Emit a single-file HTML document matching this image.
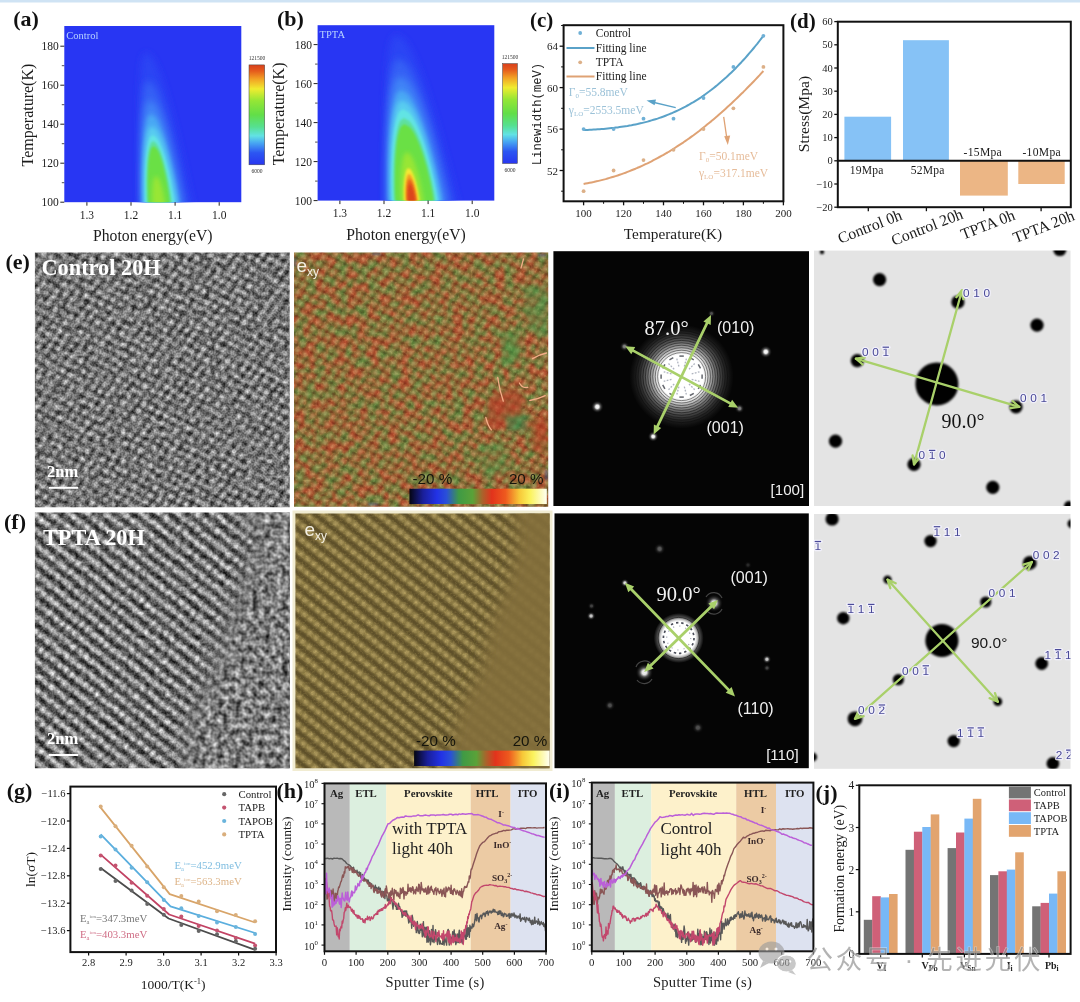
<!DOCTYPE html>
<html lang="zh"><head><meta charset="utf-8"><title>Figure</title>
<style>
html,body{margin:0;padding:0;background:#fff;}
body{width:1080px;height:1002px;overflow:hidden;}
svg{display:block;}
.s{font-family:"Liberation Serif",serif;}
.n{font-family:"Liberation Sans",sans-serif;}
.m{font-family:"Liberation Mono",monospace;}
.c{font-family:"Liberation Sans","Noto Sans CJK SC",sans-serif;}
</style></head><body>
<svg width="1080" height="1002" viewBox="0 0 1080 1002">
<defs>
<filter id="bl1" x="-20%" y="-20%" width="140%" height="140%"><feGaussianBlur stdDeviation="1.1"/></filter>
<filter id="bl2" x="-20%" y="-20%" width="140%" height="140%"><feGaussianBlur stdDeviation="2"/></filter>
<filter id="bl3" x="-30%" y="-30%" width="160%" height="160%"><feGaussianBlur stdDeviation="3.5"/></filter>
<linearGradient id="cbar" x1="0" y1="1" x2="0" y2="0">
<stop offset="0" stop-color="#2836f0"/><stop offset="0.12" stop-color="#2c56f2"/><stop offset="0.22" stop-color="#48a8f2"/>
<stop offset="0.29" stop-color="#62e2e4"/><stop offset="0.38" stop-color="#56e090"/><stop offset="0.5" stop-color="#62de48"/>
<stop offset="0.64" stop-color="#94e636"/><stop offset="0.76" stop-color="#f0ec30"/><stop offset="0.86" stop-color="#f2a024"/>
<stop offset="0.94" stop-color="#e55a1c"/><stop offset="1" stop-color="#d8401c"/></linearGradient>

<!-- TEM lattice patterns -->
<pattern id="latE" width="9.2" height="9.2" patternUnits="userSpaceOnUse" patternTransform="rotate(28) skewX(-8) scale(0.93) translate(2 3)">
<rect width="9.2" height="9.2" fill="#4e4e4e"/><circle cx="4.6" cy="4.6" r="3.4" fill="#8c8c8c"/><circle cx="4.6" cy="4.6" r="2.3" fill="#d6d6d6"/><circle cx="0" cy="0" r="2" fill="#262626"/><circle cx="9.2" cy="0" r="2" fill="#262626"/><circle cx="0" cy="9.2" r="2" fill="#262626"/><circle cx="9.2" cy="9.2" r="2" fill="#262626"/></pattern>
<pattern id="latF" width="8" height="11.3" patternUnits="userSpaceOnUse" patternTransform="rotate(38.6) translate(1 2)">
<rect width="8" height="11.3" fill="#2a2a2a"/><rect y="2.5" width="8" height="6.3" fill="#747474"/><rect y="3.7" width="8" height="3.9" fill="#989898"/><ellipse cx="4" cy="5.65" rx="2.6" ry="2.9" fill="#e6e6e6"/></pattern>
<pattern id="latEs" width="9.2" height="9.2" patternUnits="userSpaceOnUse" patternTransform="rotate(28) skewX(-8) scale(0.93) translate(2 3)">
<circle cx="4.6" cy="4.6" r="2.5" fill="#f0dc9c" fill-opacity="0.42"/><circle cx="0" cy="0" r="2.4" fill="#141000" fill-opacity="0.3"/><circle cx="9.2" cy="0" r="2.4" fill="#141000" fill-opacity="0.3"/><circle cx="0" cy="9.2" r="2.4" fill="#141000" fill-opacity="0.3"/><circle cx="9.2" cy="9.2" r="2.4" fill="#141000" fill-opacity="0.3"/></pattern>
<pattern id="latFs" width="8" height="11.3" patternUnits="userSpaceOnUse" patternTransform="rotate(38.6) translate(1 2)">
<rect width="8" height="11.3" fill="#5c4e28"/><rect y="2.5" width="8" height="6.3" fill="#84733e"/><ellipse cx="4" cy="5.65" rx="2.5" ry="2.6" fill="#ab975c"/></pattern>
<filter id="tem" x="0" y="0" width="100%" height="100%" color-interpolation-filters="sRGB">
<feGaussianBlur in="SourceGraphic" stdDeviation="1.0" result="b"/>
<feTurbulence type="fractalNoise" baseFrequency="0.19" numOctaves="1" seed="7" result="n"/>
<feColorMatrix in="n" type="matrix" values="0 0 0 2.8 -0.9  0 0 0 2.8 -0.9  0 0 0 2.8 -0.9  0 0 0 0 1" result="g"/>
<feTurbulence type="fractalNoise" baseFrequency="0.55" numOctaves="1" seed="31" result="n2"/>
<feColorMatrix in="n2" type="matrix" values="0 0 0 2.8 -0.9  0 0 0 2.8 -0.9  0 0 0 2.8 -0.9  0 0 0 0 1" result="g2"/>
<feComposite in="g" in2="g2" operator="arithmetic" k1="0" k2="0.6" k3="0.4" k4="0" result="gg"/>
<feComposite in="b" in2="gg" operator="arithmetic" k1="0" k2="0.66" k3="0.46" k4="-0.06"/>
</filter>
<filter id="temF" x="0" y="0" width="100%" height="100%" color-interpolation-filters="sRGB">
<feGaussianBlur in="SourceGraphic" stdDeviation="1.0" result="b"/>
<feTurbulence type="fractalNoise" baseFrequency="0.2" numOctaves="1" seed="11" result="n"/>
<feColorMatrix in="n" type="matrix" values="0 0 0 2.8 -0.9  0 0 0 2.8 -0.9  0 0 0 2.8 -0.9  0 0 0 0 1" result="g"/>
<feTurbulence type="fractalNoise" baseFrequency="0.55" numOctaves="1" seed="41" result="n2"/>
<feColorMatrix in="n2" type="matrix" values="0 0 0 2.8 -0.9  0 0 0 2.8 -0.9  0 0 0 2.8 -0.9  0 0 0 0 1" result="g2"/>
<feComposite in="g" in2="g2" operator="arithmetic" k1="0" k2="0.6" k3="0.4" k4="0" result="gg"/>
<feComposite in="b" in2="gg" operator="arithmetic" k1="0" k2="0.74" k3="0.4" k4="-0.07"/>
</filter>
<filter id="amorph" x="0" y="0" width="100%" height="100%" color-interpolation-filters="sRGB">
<feTurbulence type="fractalNoise" baseFrequency="0.17" numOctaves="2" seed="23" result="n"/>
<feColorMatrix in="n" type="matrix" values="0 0 0 1.1 -0.06  0 0 0 1.1 -0.06  0 0 0 1.1 -0.06  0 0 0 0 1" result="g"/>
<feGaussianBlur in="SourceGraphic" stdDeviation="9" result="m"/>
<feComposite in="g" in2="m" operator="in"/>
</filter>
<filter id="strainE" x="0" y="0" width="100%" height="100%" color-interpolation-filters="sRGB">
<feTurbulence type="fractalNoise" baseFrequency="0.095" numOctaves="2" seed="4" result="n"/>
<feColorMatrix in="n" type="matrix" values="0 0 0 1 0  0 0 0 1 0  0 0 0 1 0  0 0 0 0 1" result="g"/>
<feComponentTransfer in="g" result="col">
<feFuncR type="table" tableValues="0.34 0.34 0.36 0.40 0.45 0.52 0.59 0.64 0.67 0.68 0.68"/>
<feFuncG type="table" tableValues="0.49 0.49 0.48 0.46 0.43 0.38 0.33 0.29 0.27 0.26 0.26"/>
<feFuncB type="table" tableValues="0.21 0.21 0.21 0.21 0.20 0.185 0.17 0.16 0.155 0.15 0.15"/>
</feComponentTransfer>
<feTurbulence type="fractalNoise" baseFrequency="0.45" numOctaves="1" seed="9" result="n2"/>
<feColorMatrix in="n2" type="matrix" values="0 0 0 1.4 -0.7  0 0 0 1.4 -0.7  0 0 0 1.0 -0.5  0 0 0 0 1" result="g2"/>
<feComposite in="col" in2="g2" operator="arithmetic" k1="0" k2="1" k3="0.3" k4="0"/>
</filter>
<filter id="strainF" x="0" y="0" width="100%" height="100%" color-interpolation-filters="sRGB">
<feGaussianBlur in="SourceGraphic" stdDeviation="0.8" result="b"/>
<feTurbulence type="fractalNoise" baseFrequency="0.45" numOctaves="2" seed="15" result="n"/>
<feColorMatrix in="n" type="matrix" values="0 0 0 1.2 -0.6  0 0 0 1.1 -0.55  0 0 0 0.7 -0.35  0 0 0 0 1" result="g"/>
<feComposite in="b" in2="g" operator="arithmetic" k1="0" k2="1" k3="0.22" k4="0"/>
</filter>
<filter id="soft1" x="-50%" y="-50%" width="200%" height="200%"><feGaussianBlur stdDeviation="1.2"/></filter>
<filter id="soft2" x="-50%" y="-50%" width="200%" height="200%"><feGaussianBlur stdDeviation="2.2"/></filter>
<filter id="soft05" x="-50%" y="-50%" width="200%" height="200%"><feGaussianBlur stdDeviation="0.6"/></filter>
<filter id="soft6" x="-50%" y="-50%" width="200%" height="200%"><feGaussianBlur stdDeviation="7"/></filter>
<linearGradient id="scb" x1="0" y1="0" x2="1" y2="0">
<stop offset="0" stop-color="#050510"/><stop offset="0.10" stop-color="#1a1f9a"/><stop offset="0.20" stop-color="#2232e6"/><stop offset="0.27" stop-color="#2a50d8"/>
<stop offset="0.36" stop-color="#3f9a45"/><stop offset="0.46" stop-color="#5aa238"/><stop offset="0.53" stop-color="#a8642c"/><stop offset="0.60" stop-color="#e2331c"/><stop offset="0.70" stop-color="#ee5a1e"/>
<stop offset="0.80" stop-color="#f7c838"/><stop offset="0.88" stop-color="#fbf35e"/><stop offset="1" stop-color="#fffff2"/></linearGradient>
<radialGradient id="glowE"><stop offset="0" stop-color="#fff"/><stop offset="0.42" stop-color="#fff"/><stop offset="0.48" stop-color="#e2e2e2"/><stop offset="0.58" stop-color="#9a9a9a"/><stop offset="0.70" stop-color="#555"/><stop offset="0.82" stop-color="#282828"/><stop offset="0.93" stop-color="#101010"/><stop offset="1" stop-color="#050505"/></radialGradient>
<radialGradient id="glowF"><stop offset="0" stop-color="#fff"/><stop offset="0.66" stop-color="#fff"/><stop offset="0.74" stop-color="#c8c8c8"/><stop offset="0.86" stop-color="#444"/><stop offset="1" stop-color="#050505"/></radialGradient>
<radialGradient id="spot"><stop offset="0" stop-color="#fff"/><stop offset="0.25" stop-color="#eee"/><stop offset="0.5" stop-color="#555"/><stop offset="1" stop-color="#000" stop-opacity="0"/></radialGradient>
<clipPath id="cE1"><rect x="34.9" y="252.6" width="254.8" height="254.7"/></clipPath>
<clipPath id="cF1"><rect x="34.9" y="512.6" width="254.8" height="255.6"/></clipPath>
<clipPath id="cE2"><rect x="294" y="252.6" width="254.2" height="254.2"/></clipPath>
<clipPath id="cF2"><rect x="295.4" y="513.4" width="254.2" height="254.8"/></clipPath>
<clipPath id="cE4"><rect x="814" y="250.6" width="256.5" height="255.4"/></clipPath>
<clipPath id="cF4"><rect x="814" y="514" width="256.5" height="254.8"/></clipPath>
<clipPath id="cF3"><rect x="554.5" y="513.4" width="254.3" height="254.8"/></clipPath>

<clipPath id="cH"><rect x="324.5" y="783.4" width="221.5" height="167.9"/></clipPath>
<clipPath id="cI"><rect x="591.8" y="782.6" width="221.6" height="168.7"/></clipPath>
</defs>
<rect x="0" y="0" width="1080" height="1002" fill="#ffffff"/>
<rect x="0" y="0" width="1080" height="2.5" fill="#cfe3f4"/>
<g fill="#1c1c1c" opacity="0.999">
<clipPath id="hm1"><rect x="64.3" y="26" width="177" height="176.2"/></clipPath>
<rect x="64.3" y="26" width="177" height="176.2" fill="#2836f3"/>
<g clip-path="url(#hm1)"><path d="M139.6 206.2 L139.3 200.7 L139.3 195.2 L139.3 189.7 L139.2 184.2 L139.2 178.7 L139.1 173.2 L139.1 167.6 L139.0 162.1 L139.0 156.6 L139.0 151.1 L139.0 145.6 L139.0 140.1 L139.0 134.6 L139.0 129.1 L139.0 123.6 L139.0 118.1 L139.1 112.6 L139.2 107.1 L139.3 101.6 L139.4 96.1 L139.6 90.5 L139.8 85.0 L140.1 79.5 L140.5 74.0 L140.9 68.5 L141.6 63.0 L142.5 57.5 L145.5 52.0 L145.5 52.0 L152.2 57.5 L155.2 63.0 L157.7 68.5 L159.8 74.0 L161.8 79.5 L163.6 85.0 L165.3 90.5 L166.9 96.1 L168.4 101.6 L170.0 107.1 L171.4 112.6 L172.8 118.1 L174.2 123.6 L175.6 129.1 L176.9 134.6 L178.2 140.1 L179.5 145.6 L180.8 151.1 L182.0 156.6 L183.3 162.1 L184.5 167.6 L185.7 173.2 L186.9 178.7 L188.1 184.2 L189.4 189.7 L190.6 195.2 L191.9 200.7 L192.6 206.2Z" fill="#2c44f4" filter="url(#bl3)"/><path d="M141.1 206.2 L140.8 201.7 L140.7 197.2 L140.7 192.7 L140.6 188.2 L140.6 183.7 L140.6 179.2 L140.6 174.6 L140.5 170.1 L140.5 165.6 L140.5 161.1 L140.6 156.6 L140.6 152.1 L140.6 147.6 L140.7 143.1 L140.8 138.6 L140.9 134.1 L141.0 129.6 L141.1 125.1 L141.3 120.6 L141.5 116.1 L141.7 111.5 L142.0 107.0 L142.3 102.5 L142.7 98.0 L143.2 93.5 L143.9 89.0 L144.9 84.5 L147.9 80.0 L147.9 80.0 L153.5 84.5 L156.0 89.0 L158.0 93.5 L159.8 98.0 L161.4 102.5 L162.9 107.0 L164.3 111.5 L165.6 116.1 L166.9 120.6 L168.1 125.1 L169.3 129.6 L170.5 134.1 L171.6 138.6 L172.7 143.1 L173.7 147.6 L174.8 152.1 L175.8 156.6 L176.8 161.1 L177.8 165.6 L178.8 170.1 L179.7 174.6 L180.7 179.2 L181.6 183.7 L182.5 188.2 L183.4 192.7 L184.3 197.2 L185.2 201.7 L185.6 206.2Z" fill="#3460f5" filter="url(#bl3)"/><path d="M142.1 206.2 L141.8 202.4 L141.7 198.6 L141.6 194.8 L141.6 191.0 L141.6 187.2 L141.5 183.4 L141.5 179.6 L141.5 175.9 L141.6 172.1 L141.6 168.3 L141.6 164.5 L141.7 160.7 L141.8 156.9 L141.9 153.1 L142.0 149.3 L142.1 145.5 L142.2 141.7 L142.4 137.9 L142.6 134.1 L142.8 130.3 L143.1 126.5 L143.4 122.8 L143.8 119.0 L144.3 115.2 L144.8 111.4 L145.6 107.6 L146.6 103.8 L149.6 100.0 L149.6 100.0 L154.6 103.8 L156.8 107.6 L158.6 111.4 L160.2 115.2 L161.6 119.0 L162.9 122.8 L164.1 126.5 L165.2 130.3 L166.3 134.1 L167.4 137.9 L168.4 141.7 L169.4 145.5 L170.3 149.3 L171.2 153.1 L172.1 156.9 L173.0 160.7 L173.9 164.5 L174.7 168.3 L175.5 172.1 L176.3 175.9 L177.1 179.6 L177.8 183.4 L178.6 187.2 L179.3 191.0 L180.0 194.8 L180.7 198.6 L181.3 202.4 L181.6 206.2Z" fill="#3f84f6" filter="url(#bl3)"/><path d="M143.1 206.2 L142.9 202.9 L142.7 199.6 L142.6 196.3 L142.5 193.0 L142.5 189.7 L142.5 186.4 L142.5 183.1 L142.5 179.9 L142.5 176.6 L142.5 173.3 L142.6 170.0 L142.6 166.7 L142.7 163.4 L142.8 160.1 L143.0 156.8 L143.1 153.5 L143.3 150.2 L143.4 146.9 L143.7 143.6 L143.9 140.3 L144.2 137.1 L144.5 133.8 L144.9 130.5 L145.4 127.2 L146.0 123.9 L146.7 120.6 L147.8 117.3 L150.8 114.0 L150.8 114.0 L155.4 117.3 L157.5 120.6 L159.1 123.9 L160.5 127.2 L161.8 130.5 L163.0 133.8 L164.1 137.1 L165.1 140.3 L166.1 143.6 L167.0 146.9 L167.9 150.2 L168.8 153.5 L169.6 156.8 L170.4 160.1 L171.2 163.4 L172.0 166.7 L172.7 170.0 L173.4 173.3 L174.1 176.6 L174.8 179.9 L175.5 183.1 L176.1 186.4 L176.7 189.7 L177.3 193.0 L177.9 196.3 L178.4 199.6 L178.9 202.9 L179.1 206.2Z" fill="#4aa8f4" filter="url(#bl2)"/><path d="M144.1 206.2 L143.9 203.3 L143.7 200.5 L143.6 197.6 L143.6 194.7 L143.5 191.9 L143.5 189.0 L143.5 186.1 L143.5 183.3 L143.6 180.4 L143.6 177.6 L143.7 174.7 L143.7 171.8 L143.8 169.0 L143.9 166.1 L144.1 163.2 L144.2 160.4 L144.4 157.5 L144.6 154.6 L144.8 151.8 L145.1 148.9 L145.4 146.1 L145.7 143.2 L146.1 140.3 L146.6 137.5 L147.1 134.6 L147.9 131.7 L148.9 128.9 L151.8 126.0 L151.8 126.0 L156.1 128.9 L158.0 131.7 L159.4 134.6 L160.7 137.5 L161.9 140.3 L163.0 143.2 L163.9 146.1 L164.9 148.9 L165.8 151.8 L166.6 154.6 L167.4 157.5 L168.2 160.4 L168.9 163.2 L169.6 166.1 L170.3 169.0 L171.0 171.8 L171.7 174.7 L172.3 177.6 L172.9 180.4 L173.5 183.3 L174.1 186.1 L174.6 189.0 L175.1 191.9 L175.7 194.7 L176.1 197.6 L176.6 200.5 L176.9 203.3 L177.1 206.2Z" fill="#58ccf0" filter="url(#bl2)"/><path d="M145.6 206.2 L145.4 203.7 L145.2 201.1 L145.1 198.6 L145.1 196.0 L145.0 193.5 L145.0 190.9 L145.0 188.4 L145.0 185.9 L145.0 183.3 L145.0 180.8 L145.1 178.2 L145.2 175.7 L145.2 173.1 L145.3 170.6 L145.5 168.1 L145.6 165.5 L145.7 163.0 L145.9 160.4 L146.1 157.9 L146.4 155.3 L146.6 152.8 L147.0 150.3 L147.3 147.7 L147.8 145.2 L148.3 142.6 L149.0 140.1 L149.9 137.5 L152.6 135.0 L152.6 135.0 L156.3 137.5 L158.0 140.1 L159.3 142.6 L160.5 145.2 L161.5 147.7 L162.4 150.3 L163.3 152.8 L164.1 155.3 L164.9 157.9 L165.6 160.4 L166.3 163.0 L167.0 165.5 L167.6 168.1 L168.3 170.6 L168.9 173.1 L169.4 175.7 L170.0 178.2 L170.6 180.8 L171.1 183.3 L171.6 185.9 L172.1 188.4 L172.5 190.9 L173.0 193.5 L173.4 196.0 L173.8 198.6 L174.2 201.1 L174.4 203.7 L174.6 206.2Z" fill="#62e4e4" filter="url(#bl1)"/><path d="M147.1 206.2 L146.9 203.9 L146.8 201.5 L146.6 199.2 L146.5 196.9 L146.5 194.6 L146.4 192.2 L146.4 189.9 L146.4 187.6 L146.4 185.2 L146.4 182.9 L146.4 180.6 L146.4 178.3 L146.5 175.9 L146.6 173.6 L146.6 171.3 L146.8 168.9 L146.9 166.6 L147.0 164.3 L147.2 162.0 L147.4 159.6 L147.7 157.3 L147.9 155.0 L148.3 152.6 L148.7 150.3 L149.1 148.0 L149.8 145.7 L150.7 143.3 L153.1 141.0 L153.1 141.0 L156.4 143.3 L157.9 145.7 L159.0 148.0 L160.0 150.3 L160.9 152.6 L161.7 155.0 L162.5 157.3 L163.2 159.6 L163.9 162.0 L164.5 164.3 L165.1 166.6 L165.7 168.9 L166.3 171.3 L166.8 173.6 L167.3 175.9 L167.8 178.3 L168.3 180.6 L168.7 182.9 L169.2 185.2 L169.6 187.6 L170.0 189.9 L170.4 192.2 L170.8 194.6 L171.1 196.9 L171.4 199.2 L171.7 201.5 L171.9 203.9 L172.1 206.2Z" fill="#5ee0a0" filter="url(#bl1)"/><path d="M148.6 206.2 L148.5 204.0 L148.3 201.9 L148.1 199.8 L148.0 197.6 L147.9 195.4 L147.9 193.3 L147.8 191.1 L147.8 189.0 L147.7 186.8 L147.7 184.7 L147.7 182.5 L147.7 180.4 L147.8 178.2 L147.8 176.1 L147.9 173.9 L148.0 171.8 L148.1 169.7 L148.2 167.5 L148.3 165.3 L148.5 163.2 L148.7 161.1 L148.9 158.9 L149.2 156.8 L149.6 154.6 L150.0 152.4 L150.5 150.3 L151.3 148.2 L153.5 146.0 L153.5 146.0 L156.4 148.2 L157.7 150.3 L158.8 152.4 L159.7 154.6 L160.4 156.8 L161.2 158.9 L161.8 161.1 L162.5 163.2 L163.0 165.3 L163.6 167.5 L164.1 169.7 L164.6 171.8 L165.1 173.9 L165.6 176.1 L166.0 178.2 L166.5 180.4 L166.9 182.5 L167.3 184.7 L167.6 186.8 L168.0 189.0 L168.3 191.1 L168.7 193.3 L169.0 195.4 L169.3 197.6 L169.5 199.8 L169.8 201.9 L170.0 204.0 L170.1 206.2Z" fill="#6ae044" filter="url(#bl1)"/><path d="M152.6 206.2 L152.5 205.1 L152.5 204.0 L152.4 203.0 L152.3 201.9 L152.2 200.8 L152.2 199.7 L152.1 198.6 L152.1 197.6 L152.1 196.5 L152.1 195.4 L152.1 194.3 L152.2 193.3 L152.2 192.2 L152.3 191.1 L152.3 190.0 L152.4 188.9 L152.5 187.9 L152.5 186.8 L152.7 185.7 L152.8 184.6 L152.9 183.6 L153.1 182.5 L153.3 181.4 L153.5 180.3 L153.8 179.2 L154.2 178.2 L154.7 177.1 L156.1 176.0 L156.1 176.0 L157.8 177.1 L158.5 178.2 L159.1 179.2 L159.6 180.3 L160.0 181.4 L160.4 182.5 L160.8 183.6 L161.2 184.6 L161.5 185.7 L161.8 186.8 L162.1 187.9 L162.4 188.9 L162.6 190.0 L162.9 191.1 L163.1 192.2 L163.4 193.3 L163.6 194.3 L163.8 195.4 L164.0 196.5 L164.2 197.6 L164.3 198.6 L164.5 199.7 L164.6 200.8 L164.8 201.9 L164.9 203.0 L165.0 204.0 L165.0 205.1 L165.1 206.2Z" fill="#98e636" filter="url(#bl2)"/></g>
<text class="s" x="66.3" y="38.5" font-size="10.5" fill="#b9d4ff">Control</text>
<text class="s" x="13.2" y="26" font-size="22" font-weight="bold" fill="#111">(a)</text>
<line x1="60.3" y1="46.2" x2="64.3" y2="46.2" stroke="#222" stroke-width="1"/>
<text class="s" x="58.8" y="50.2" font-size="11.5" text-anchor="end">180</text>
<line x1="60.3" y1="85.2" x2="64.3" y2="85.2" stroke="#222" stroke-width="1"/>
<text class="s" x="58.8" y="89.2" font-size="11.5" text-anchor="end">160</text>
<line x1="60.3" y1="124.2" x2="64.3" y2="124.2" stroke="#222" stroke-width="1"/>
<text class="s" x="58.8" y="128.2" font-size="11.5" text-anchor="end">140</text>
<line x1="60.3" y1="163.2" x2="64.3" y2="163.2" stroke="#222" stroke-width="1"/>
<text class="s" x="58.8" y="167.2" font-size="11.5" text-anchor="end">120</text>
<line x1="60.3" y1="202.2" x2="64.3" y2="202.2" stroke="#222" stroke-width="1"/>
<text class="s" x="58.8" y="206.2" font-size="11.5" text-anchor="end">100</text>
<line x1="61.8" y1="65.7" x2="64.3" y2="65.7" stroke="#222" stroke-width="0.8"/>
<line x1="61.8" y1="104.7" x2="64.3" y2="104.7" stroke="#222" stroke-width="0.8"/>
<line x1="61.8" y1="143.7" x2="64.3" y2="143.7" stroke="#222" stroke-width="0.8"/>
<line x1="61.8" y1="182.7" x2="64.3" y2="182.7" stroke="#222" stroke-width="0.8"/>
<line x1="86.9" y1="202.2" x2="86.9" y2="205.7" stroke="#222" stroke-width="1"/>
<text class="s" x="86.9" y="218.7" font-size="11.5" text-anchor="middle">1.3</text>
<line x1="131" y1="202.2" x2="131" y2="205.7" stroke="#222" stroke-width="1"/>
<text class="s" x="131" y="218.7" font-size="11.5" text-anchor="middle">1.2</text>
<line x1="175.1" y1="202.2" x2="175.1" y2="205.7" stroke="#222" stroke-width="1"/>
<text class="s" x="175.1" y="218.7" font-size="11.5" text-anchor="middle">1.1</text>
<line x1="219.2" y1="202.2" x2="219.2" y2="205.7" stroke="#222" stroke-width="1"/>
<text class="s" x="219.2" y="218.7" font-size="11.5" text-anchor="middle">1.0</text>
<text class="s" x="33" y="115.1" font-size="16" text-anchor="middle" transform="rotate(-90 33 115.1)">Temperature(K)</text>
<text class="s" x="152.8" y="241.2" font-size="15.7" text-anchor="middle">Photon energy(eV)</text>
<rect x="249" y="64.9" width="15.7" height="99.9" fill="url(#cbar)" stroke="#444" stroke-width="0.5"/>
<text class="s" x="256.9" y="60.4" font-size="5.5" text-anchor="middle" fill="#333">121500</text>
<text class="s" x="256.9" y="173.3" font-size="5.5" text-anchor="middle" fill="#333">6000</text>
<clipPath id="hm2"><rect x="317.6" y="25.2" width="176.7" height="175.4"/></clipPath>
<rect x="317.6" y="25.2" width="176.7" height="175.4" fill="#2836f3"/>
<g clip-path="url(#hm2)"><path d="M384.9 204.6 L384.6 198.5 L384.6 192.4 L384.7 186.3 L384.7 180.2 L384.7 174.1 L384.7 168.0 L384.7 161.9 L384.8 155.9 L384.8 149.8 L384.8 143.7 L384.9 137.6 L385.0 131.5 L385.1 125.4 L385.2 119.3 L385.3 113.2 L385.4 107.1 L385.6 101.0 L385.8 94.9 L386.0 88.8 L386.3 82.7 L386.7 76.7 L387.1 70.6 L387.6 64.5 L388.2 58.4 L388.9 52.3 L389.9 46.2 L391.3 40.1 L395.7 34.0 L395.7 34.0 L404.6 40.1 L408.7 46.2 L411.9 52.3 L414.7 58.4 L417.3 64.5 L419.7 70.6 L422.0 76.7 L424.1 82.7 L426.2 88.8 L428.1 94.9 L430.0 101.0 L431.9 107.1 L433.7 113.2 L435.5 119.3 L437.2 125.4 L439.0 131.5 L440.6 137.6 L442.3 143.7 L443.9 149.8 L445.6 155.9 L447.2 161.9 L448.8 168.0 L450.4 174.1 L452.0 180.2 L453.6 186.3 L455.2 192.4 L456.9 198.5 L457.9 204.6Z" fill="#2c44f4" filter="url(#bl3)"/><path d="M386.4 204.6 L386.0 199.4 L386.0 194.1 L386.0 188.9 L386.0 183.7 L386.0 178.4 L386.0 173.2 L386.0 167.9 L386.0 162.7 L386.1 157.5 L386.2 152.2 L386.3 147.0 L386.4 141.8 L386.5 136.5 L386.6 131.3 L386.8 126.1 L387.0 120.8 L387.2 115.6 L387.5 110.4 L387.8 105.1 L388.1 99.9 L388.5 94.7 L389.0 89.4 L389.5 84.2 L390.2 78.9 L391.0 73.7 L392.0 68.5 L393.6 63.2 L398.0 58.0 L398.0 58.0 L405.9 63.2 L409.5 68.5 L412.4 73.7 L414.9 78.9 L417.2 84.2 L419.2 89.4 L421.2 94.7 L423.1 99.9 L424.8 105.1 L426.6 110.4 L428.2 115.6 L429.8 120.8 L431.4 126.1 L432.9 131.3 L434.4 136.5 L435.8 141.8 L437.2 147.0 L438.6 152.2 L440.0 157.5 L441.3 162.7 L442.6 167.9 L443.9 173.2 L445.2 178.4 L446.5 183.7 L447.8 188.9 L449.0 194.1 L450.2 199.4 L450.9 204.6Z" fill="#3460f5" filter="url(#bl3)"/><path d="M387.9 204.6 L387.5 200.0 L387.4 195.4 L387.3 190.8 L387.3 186.2 L387.3 181.6 L387.3 177.0 L387.3 172.4 L387.3 167.9 L387.4 163.3 L387.5 158.7 L387.6 154.1 L387.7 149.5 L387.8 144.9 L388.0 140.3 L388.2 135.7 L388.4 131.1 L388.6 126.5 L388.9 121.9 L389.2 117.3 L389.6 112.7 L390.0 108.2 L390.5 103.6 L391.1 99.0 L391.8 94.4 L392.6 89.8 L393.7 85.2 L395.3 80.6 L399.7 76.0 L399.7 76.0 L406.9 80.6 L410.2 85.2 L412.8 89.8 L415.0 94.4 L417.1 99.0 L419.0 103.6 L420.7 108.2 L422.4 112.7 L423.9 117.3 L425.4 121.9 L426.9 126.5 L428.3 131.1 L429.7 135.7 L431.0 140.3 L432.3 144.9 L433.5 149.5 L434.7 154.1 L435.9 158.7 L437.1 163.3 L438.2 167.9 L439.3 172.4 L440.4 177.0 L441.5 181.6 L442.5 186.2 L443.5 190.8 L444.5 195.4 L445.4 200.0 L445.9 204.6Z" fill="#3f84f6" filter="url(#bl3)"/><path d="M389.4 204.6 L389.0 200.5 L388.8 196.4 L388.7 192.3 L388.7 188.2 L388.6 184.1 L388.6 180.0 L388.6 175.9 L388.6 171.9 L388.7 167.8 L388.7 163.7 L388.8 159.6 L388.9 155.5 L389.1 151.4 L389.2 147.3 L389.4 143.2 L389.7 139.1 L389.9 135.0 L390.2 130.9 L390.5 126.8 L390.9 122.7 L391.3 118.7 L391.9 114.6 L392.4 110.5 L393.1 106.4 L394.0 102.3 L395.1 98.2 L396.6 94.1 L401.0 90.0 L401.0 90.0 L407.8 94.1 L410.8 98.2 L413.2 102.3 L415.3 106.4 L417.2 110.5 L418.9 114.6 L420.5 118.7 L422.0 122.7 L423.4 126.8 L424.8 130.9 L426.1 135.0 L427.3 139.1 L428.6 143.2 L429.7 147.3 L430.9 151.4 L432.0 155.5 L433.0 159.6 L434.1 163.7 L435.1 167.8 L436.1 171.9 L437.0 175.9 L438.0 180.0 L438.8 184.1 L439.7 188.2 L440.5 192.3 L441.3 196.4 L442.0 200.5 L442.4 204.6Z" fill="#4aa8f4" filter="url(#bl2)"/><path d="M390.9 204.6 L390.5 200.9 L390.3 197.1 L390.2 193.4 L390.1 189.7 L390.1 185.9 L390.0 182.2 L390.0 178.4 L390.1 174.7 L390.1 171.0 L390.2 167.2 L390.2 163.5 L390.4 159.8 L390.5 156.0 L390.6 152.3 L390.8 148.6 L391.0 144.8 L391.3 141.1 L391.6 137.4 L391.9 133.6 L392.2 129.9 L392.7 126.2 L393.2 122.4 L393.7 118.7 L394.4 114.9 L395.2 111.2 L396.3 107.5 L397.8 103.7 L401.9 100.0 L401.9 100.0 L408.3 103.7 L411.1 107.5 L413.4 111.2 L415.3 114.9 L417.0 118.7 L418.6 122.4 L420.1 126.2 L421.5 129.9 L422.8 133.6 L424.1 137.4 L425.3 141.1 L426.4 144.8 L427.5 148.6 L428.6 152.3 L429.6 156.0 L430.6 159.8 L431.6 163.5 L432.6 167.2 L433.5 171.0 L434.3 174.7 L435.2 178.4 L436.0 182.2 L436.8 185.9 L437.6 189.7 L438.3 193.4 L439.0 197.1 L439.5 200.9 L439.9 204.6Z" fill="#58ccf0" filter="url(#bl2)"/><path d="M392.4 204.6 L392.1 201.2 L391.8 197.8 L391.7 194.4 L391.6 190.9 L391.6 187.5 L391.5 184.1 L391.5 180.7 L391.5 177.3 L391.5 173.9 L391.6 170.5 L391.7 167.0 L391.8 163.6 L391.9 160.2 L392.0 156.8 L392.2 153.4 L392.4 150.0 L392.6 146.6 L392.9 143.1 L393.2 139.7 L393.5 136.3 L394.0 132.9 L394.4 129.5 L395.0 126.1 L395.6 122.7 L396.4 119.2 L397.4 115.8 L398.8 112.4 L402.8 109.0 L402.8 109.0 L408.8 112.4 L411.5 115.8 L413.6 119.2 L415.4 122.7 L417.0 126.1 L418.5 129.5 L419.9 132.9 L421.2 136.3 L422.4 139.7 L423.6 143.1 L424.7 146.6 L425.7 150.0 L426.8 153.4 L427.8 156.8 L428.7 160.2 L429.6 163.6 L430.5 167.0 L431.4 170.5 L432.2 173.9 L433.0 177.3 L433.8 180.7 L434.5 184.1 L435.2 187.5 L435.9 190.9 L436.5 194.4 L437.1 197.8 L437.6 201.2 L437.9 204.6Z" fill="#62e4e4" filter="url(#bl1)"/><path d="M394.4 204.6 L394.1 201.5 L393.9 198.4 L393.7 195.3 L393.6 192.2 L393.5 189.1 L393.5 186.0 L393.4 182.9 L393.4 179.9 L393.5 176.8 L393.5 173.7 L393.5 170.6 L393.6 167.5 L393.7 164.4 L393.8 161.3 L394.0 158.2 L394.2 155.1 L394.4 152.0 L394.6 148.9 L394.9 145.8 L395.2 142.7 L395.6 139.7 L396.0 136.6 L396.5 133.5 L397.1 130.4 L397.8 127.3 L398.7 124.2 L400.0 121.1 L403.7 118.0 L403.7 118.0 L409.3 121.1 L411.8 124.2 L413.8 127.3 L415.5 130.4 L417.0 133.5 L418.4 136.6 L419.6 139.7 L420.8 142.7 L422.0 145.8 L423.0 148.9 L424.1 152.0 L425.0 155.1 L426.0 158.2 L426.9 161.3 L427.7 164.4 L428.6 167.5 L429.4 170.6 L430.1 173.7 L430.9 176.8 L431.6 179.9 L432.3 182.9 L432.9 186.0 L433.6 189.1 L434.2 192.2 L434.7 195.3 L435.2 198.4 L435.6 201.5 L435.9 204.6Z" fill="#5ee0a0" filter="url(#bl1)"/><path d="M395.9 204.6 L395.6 201.7 L395.4 198.8 L395.2 196.0 L395.1 193.1 L395.0 190.2 L394.9 187.3 L394.9 184.4 L394.9 181.6 L394.9 178.7 L394.9 175.8 L394.9 172.9 L395.0 170.1 L395.1 167.2 L395.2 164.3 L395.3 161.4 L395.4 158.5 L395.6 155.7 L395.8 152.8 L396.1 149.9 L396.4 147.0 L396.7 144.2 L397.1 141.3 L397.5 138.4 L398.1 135.5 L398.8 132.6 L399.6 129.8 L400.8 126.9 L404.2 124.0 L404.2 124.0 L409.5 126.9 L411.9 129.8 L413.7 132.6 L415.3 135.5 L416.7 138.4 L417.9 141.3 L419.1 144.2 L420.2 147.0 L421.3 149.9 L422.2 152.8 L423.2 155.7 L424.1 158.5 L424.9 161.4 L425.8 164.3 L426.6 167.2 L427.3 170.1 L428.0 172.9 L428.7 175.8 L429.4 178.7 L430.1 181.6 L430.7 184.4 L431.3 187.3 L431.8 190.2 L432.4 193.1 L432.8 196.0 L433.3 198.8 L433.6 201.7 L433.9 204.6Z" fill="#6ae044" filter="url(#bl1)"/><path d="M401.4 204.6 L401.2 202.7 L401.0 200.8 L400.9 199.0 L400.8 197.1 L400.7 195.2 L400.7 193.3 L400.7 191.4 L400.6 189.6 L400.6 187.7 L400.6 185.8 L400.7 183.9 L400.7 182.1 L400.8 180.2 L400.8 178.3 L400.9 176.4 L401.0 174.5 L401.1 172.7 L401.3 170.8 L401.4 168.9 L401.6 167.0 L401.9 165.2 L402.1 163.3 L402.4 161.4 L402.8 159.5 L403.2 157.6 L403.8 155.8 L404.6 153.9 L406.9 152.0 L406.9 152.0 L409.8 153.9 L411.2 155.8 L412.2 157.6 L413.1 159.5 L413.9 161.4 L414.6 163.3 L415.3 165.2 L415.9 167.0 L416.5 168.9 L417.1 170.8 L417.7 172.7 L418.2 174.5 L418.7 176.4 L419.2 178.3 L419.6 180.2 L420.1 182.1 L420.5 183.9 L420.9 185.8 L421.3 187.7 L421.7 189.6 L422.0 191.4 L422.4 193.3 L422.7 195.2 L423.0 197.1 L423.3 199.0 L423.5 200.8 L423.7 202.7 L423.9 204.6Z" fill="#98e636" filter="url(#bl2)"/><path d="M404.4 204.6 L404.3 203.3 L404.1 202.0 L404.0 200.7 L403.9 199.4 L403.8 198.1 L403.8 196.8 L403.8 195.4 L403.7 194.1 L403.7 192.8 L403.7 191.5 L403.7 190.2 L403.7 188.9 L403.8 187.6 L403.8 186.3 L403.9 185.0 L404.0 183.7 L404.0 182.4 L404.2 181.1 L404.3 179.8 L404.4 178.5 L404.6 177.2 L404.8 175.8 L405.0 174.5 L405.3 173.2 L405.6 171.9 L406.1 170.6 L406.7 169.3 L408.4 168.0 L408.4 168.0 L410.5 169.3 L411.4 170.6 L412.1 171.9 L412.7 173.2 L413.3 174.5 L413.8 175.8 L414.3 177.2 L414.7 178.5 L415.1 179.8 L415.5 181.1 L415.9 182.4 L416.2 183.7 L416.6 185.0 L416.9 186.3 L417.2 187.6 L417.5 188.9 L417.8 190.2 L418.0 191.5 L418.3 192.8 L418.5 194.1 L418.8 195.4 L419.0 196.8 L419.2 198.1 L419.4 199.4 L419.5 200.7 L419.6 202.0 L419.8 203.3 L419.9 204.6Z" fill="#f4e834" filter="url(#bl1)"/><path d="M406.1 204.6 L406.0 203.5 L405.9 202.4 L405.8 201.3 L405.7 200.2 L405.6 199.1 L405.5 198.0 L405.5 196.9 L405.5 195.9 L405.5 194.8 L405.4 193.7 L405.4 192.6 L405.4 191.5 L405.5 190.4 L405.5 189.3 L405.5 188.2 L405.6 187.1 L405.6 186.0 L405.7 184.9 L405.8 183.8 L405.9 182.7 L406.0 181.7 L406.2 180.6 L406.4 179.5 L406.6 178.4 L406.8 177.3 L407.2 176.2 L407.6 175.1 L409.0 174.0 L409.0 174.0 L410.6 175.1 L411.3 176.2 L411.9 177.3 L412.4 178.4 L412.8 179.5 L413.2 180.6 L413.6 181.7 L414.0 182.7 L414.3 183.8 L414.6 184.9 L414.9 186.0 L415.2 187.1 L415.4 188.2 L415.7 189.3 L415.9 190.4 L416.2 191.5 L416.4 192.6 L416.6 193.7 L416.8 194.8 L417.0 195.9 L417.2 196.9 L417.4 198.0 L417.5 199.1 L417.7 200.2 L417.8 201.3 L417.9 202.4 L418.0 203.5 L418.1 204.6Z" fill="#f2a024" filter="url(#bl1)"/><path d="M407.3 204.6 L407.2 203.7 L407.1 202.8 L407.0 201.9 L406.9 200.9 L406.9 200.0 L406.8 199.1 L406.8 198.2 L406.7 197.3 L406.7 196.4 L406.7 195.5 L406.7 194.5 L406.7 193.6 L406.7 192.7 L406.7 191.8 L406.7 190.9 L406.8 190.0 L406.8 189.1 L406.9 188.1 L406.9 187.2 L407.0 186.3 L407.1 185.4 L407.2 184.5 L407.4 183.6 L407.5 182.7 L407.7 181.7 L408.0 180.8 L408.4 179.9 L409.4 179.0 L409.4 179.0 L410.7 179.9 L411.3 180.8 L411.8 181.7 L412.2 182.7 L412.5 183.6 L412.8 184.5 L413.1 185.4 L413.4 186.3 L413.7 187.2 L413.9 188.1 L414.2 189.1 L414.4 190.0 L414.6 190.9 L414.8 191.8 L415.0 192.7 L415.2 193.6 L415.4 194.5 L415.5 195.5 L415.7 196.4 L415.8 197.3 L416.0 198.2 L416.1 199.1 L416.2 200.0 L416.3 200.9 L416.4 201.9 L416.5 202.8 L416.6 203.7 L416.7 204.6Z" fill="#e8641e" filter="url(#bl1)"/><path d="M408.5 204.6 L408.4 203.9 L408.3 203.1 L408.3 202.4 L408.2 201.7 L408.1 200.9 L408.1 200.2 L408.0 199.4 L408.0 198.7 L408.0 198.0 L407.9 197.2 L407.9 196.5 L407.9 195.8 L407.9 195.0 L407.9 194.3 L407.9 193.6 L408.0 192.8 L408.0 192.1 L408.0 191.4 L408.1 190.6 L408.1 189.9 L408.2 189.2 L408.3 188.4 L408.4 187.7 L408.5 186.9 L408.6 186.2 L408.8 185.5 L409.1 184.7 L409.9 184.0 L409.9 184.0 L410.9 184.7 L411.4 185.5 L411.7 186.2 L412.0 186.9 L412.3 187.7 L412.5 188.4 L412.8 189.2 L413.0 189.9 L413.2 190.6 L413.4 191.4 L413.6 192.1 L413.7 192.8 L413.9 193.6 L414.1 194.3 L414.2 195.0 L414.3 195.8 L414.5 196.5 L414.6 197.2 L414.7 198.0 L414.9 198.7 L415.0 199.4 L415.1 200.2 L415.1 200.9 L415.2 201.7 L415.3 202.4 L415.3 203.1 L415.4 203.9 L415.5 204.6Z" fill="#dc441a" filter="url(#bl1)"/></g>
<text class="s" x="319.6" y="37.7" font-size="10.5" fill="#b9d4ff">TPTA</text>
<text class="s" x="277" y="26" font-size="22" font-weight="bold" fill="#111">(b)</text>
<line x1="313.6" y1="44.6" x2="317.6" y2="44.6" stroke="#222" stroke-width="1"/>
<text class="s" x="312.1" y="48.6" font-size="11.5" text-anchor="end">180</text>
<line x1="313.6" y1="83.6" x2="317.6" y2="83.6" stroke="#222" stroke-width="1"/>
<text class="s" x="312.1" y="87.6" font-size="11.5" text-anchor="end">160</text>
<line x1="313.6" y1="122.6" x2="317.6" y2="122.6" stroke="#222" stroke-width="1"/>
<text class="s" x="312.1" y="126.6" font-size="11.5" text-anchor="end">140</text>
<line x1="313.6" y1="161.6" x2="317.6" y2="161.6" stroke="#222" stroke-width="1"/>
<text class="s" x="312.1" y="165.6" font-size="11.5" text-anchor="end">120</text>
<line x1="313.6" y1="200.6" x2="317.6" y2="200.6" stroke="#222" stroke-width="1"/>
<text class="s" x="312.1" y="204.6" font-size="11.5" text-anchor="end">100</text>
<line x1="315.1" y1="64.1" x2="317.6" y2="64.1" stroke="#222" stroke-width="0.8"/>
<line x1="315.1" y1="103.1" x2="317.6" y2="103.1" stroke="#222" stroke-width="0.8"/>
<line x1="315.1" y1="142.1" x2="317.6" y2="142.1" stroke="#222" stroke-width="0.8"/>
<line x1="315.1" y1="181.1" x2="317.6" y2="181.1" stroke="#222" stroke-width="0.8"/>
<line x1="339.9" y1="200.6" x2="339.9" y2="204.1" stroke="#222" stroke-width="1"/>
<text class="s" x="339.9" y="217.1" font-size="11.5" text-anchor="middle">1.3</text>
<line x1="384" y1="200.6" x2="384" y2="204.1" stroke="#222" stroke-width="1"/>
<text class="s" x="384" y="217.1" font-size="11.5" text-anchor="middle">1.2</text>
<line x1="428.1" y1="200.6" x2="428.1" y2="204.1" stroke="#222" stroke-width="1"/>
<text class="s" x="428.1" y="217.1" font-size="11.5" text-anchor="middle">1.1</text>
<line x1="472.2" y1="200.6" x2="472.2" y2="204.1" stroke="#222" stroke-width="1"/>
<text class="s" x="472.2" y="217.1" font-size="11.5" text-anchor="middle">1.0</text>
<text class="s" x="284.5" y="113.9" font-size="16" text-anchor="middle" transform="rotate(-90 284.5 113.9)">Temperature(K)</text>
<text class="s" x="406" y="239.6" font-size="15.7" text-anchor="middle">Photon energy(eV)</text>
<rect x="502.6" y="63.6" width="14.8" height="99.9" fill="url(#cbar)" stroke="#444" stroke-width="0.5"/>
<text class="s" x="510" y="59.1" font-size="5.5" text-anchor="middle" fill="#333">121500</text>
<text class="s" x="510" y="172" font-size="5.5" text-anchor="middle" fill="#333">6000</text>
<polyline points="583.6,130.1 585.6,130.0 587.6,129.9 589.6,129.8 591.6,129.7 593.6,129.6 595.6,129.5 597.6,129.3 599.6,129.2 601.6,129.0 603.6,128.9 605.6,128.7 607.6,128.5 609.6,128.3 611.6,128.1 613.6,127.9 615.6,127.6 617.6,127.4 619.6,127.1 621.6,126.8 623.6,126.5 625.5,126.2 627.5,125.9 629.5,125.5 631.5,125.2 633.5,124.8 635.5,124.4 637.5,124.0 639.5,123.5 641.5,123.1 643.5,122.6 645.5,122.1 647.5,121.6 649.5,121.0 651.5,120.4 653.5,119.8 655.5,119.2 657.5,118.6 659.5,117.9 661.5,117.2 663.5,116.5 665.5,115.7 667.5,114.9 669.5,114.1 671.5,113.3 673.5,112.4 675.5,111.5 677.5,110.6 679.5,109.7 681.5,108.7 683.5,107.6 685.5,106.6 687.5,105.5 689.5,104.4 691.5,103.2 693.5,102.1 695.5,100.8 697.5,99.6 699.5,98.3 701.5,97.0 703.5,95.6 705.4,94.2 707.4,92.7 709.4,91.3 711.4,89.8 713.4,88.2 715.4,86.6 717.4,85.0 719.4,83.3 721.4,81.6 723.4,79.8 725.4,78.1 727.4,76.2 729.4,74.3 731.4,72.4 733.4,70.5 735.4,68.5 737.4,66.4 739.4,64.3 741.4,62.2 743.4,60.0 745.4,57.8 747.4,55.5 749.4,53.2 751.4,50.9 753.4,48.5 755.4,46.0 757.4,43.6 759.4,41.0 761.4,38.4 763.4,35.8" fill="none" stroke="#5aa2c8" stroke-width="2" stroke-linejoin="round"/>
<polyline points="583.6,184.0 585.6,183.6 587.6,183.2 589.6,182.8 591.6,182.4 593.6,182.0 595.6,181.5 597.6,181.1 599.6,180.6 601.6,180.1 603.6,179.6 605.6,179.1 607.6,178.5 609.6,177.9 611.6,177.3 613.6,176.7 615.6,176.1 617.6,175.5 619.6,174.8 621.6,174.1 623.6,173.4 625.5,172.7 627.5,171.9 629.5,171.1 631.5,170.3 633.5,169.5 635.5,168.7 637.5,167.8 639.5,167.0 641.5,166.1 643.5,165.2 645.5,164.2 647.5,163.3 649.5,162.3 651.5,161.3 653.5,160.2 655.5,159.2 657.5,158.1 659.5,157.0 661.5,155.9 663.5,154.8 665.5,153.6 667.5,152.5 669.5,151.3 671.5,150.0 673.5,148.8 675.5,147.5 677.5,146.2 679.5,144.9 681.5,143.6 683.5,142.3 685.5,140.9 687.5,139.5 689.5,138.1 691.5,136.6 693.5,135.2 695.5,133.7 697.5,132.2 699.5,130.7 701.5,129.1 703.5,127.5 705.4,126.0 707.4,124.3 709.4,122.7 711.4,121.1 713.4,119.4 715.4,117.7 717.4,116.0 719.4,114.2 721.4,112.5 723.4,110.7 725.4,108.9 727.4,107.1 729.4,105.3 731.4,103.4 733.4,101.5 735.4,99.6 737.4,97.7 739.4,95.8 741.4,93.8 743.4,91.9 745.4,89.9 747.4,87.8 749.4,85.8 751.4,83.8 753.4,81.7 755.4,79.6 757.4,77.5 759.4,75.4 761.4,73.2 763.4,71.0" fill="none" stroke="#dfa274" stroke-width="2" stroke-linejoin="round"/>
<circle cx="583.6" cy="129.1" r="1.9" fill="#6fb0d6"/>
<circle cx="613.6" cy="129.1" r="1.9" fill="#6fb0d6"/>
<circle cx="643.5" cy="118.7" r="1.9" fill="#6fb0d6"/>
<circle cx="673.5" cy="118.7" r="1.9" fill="#6fb0d6"/>
<circle cx="703.5" cy="98" r="1.9" fill="#6fb0d6"/>
<circle cx="733.4" cy="66.9" r="1.9" fill="#6fb0d6"/>
<circle cx="763.4" cy="35.8" r="1.9" fill="#6fb0d6"/>
<circle cx="583.6" cy="191.2" r="1.9" fill="#dcb088"/>
<circle cx="613.6" cy="170.5" r="1.9" fill="#dcb088"/>
<circle cx="643.5" cy="160.1" r="1.9" fill="#dcb088"/>
<circle cx="673.5" cy="149.8" r="1.9" fill="#dcb088"/>
<circle cx="703.5" cy="129.1" r="1.9" fill="#dcb088"/>
<circle cx="733.4" cy="108.3" r="1.9" fill="#dcb088"/>
<circle cx="763.4" cy="66.9" r="1.9" fill="#dcb088"/>
<rect x="563.6" y="25.2" width="219.8" height="176.1" fill="none" stroke="#111" stroke-width="2"/>
<line x1="583.6" y1="201.3" x2="583.6" y2="205.3" stroke="#111" stroke-width="1.3"/>
<text class="s" x="583.6" y="217.3" font-size="11" text-anchor="middle">100</text>
<line x1="623.6" y1="201.3" x2="623.6" y2="205.3" stroke="#111" stroke-width="1.3"/>
<text class="s" x="623.6" y="217.3" font-size="11" text-anchor="middle">120</text>
<line x1="663.5" y1="201.3" x2="663.5" y2="205.3" stroke="#111" stroke-width="1.3"/>
<text class="s" x="663.5" y="217.3" font-size="11" text-anchor="middle">140</text>
<line x1="703.5" y1="201.3" x2="703.5" y2="205.3" stroke="#111" stroke-width="1.3"/>
<text class="s" x="703.5" y="217.3" font-size="11" text-anchor="middle">160</text>
<line x1="743.4" y1="201.3" x2="743.4" y2="205.3" stroke="#111" stroke-width="1.3"/>
<text class="s" x="743.4" y="217.3" font-size="11" text-anchor="middle">180</text>
<line x1="783.4" y1="201.3" x2="783.4" y2="205.3" stroke="#111" stroke-width="1.3"/>
<text class="s" x="783.4" y="217.3" font-size="11" text-anchor="middle">200</text>
<line x1="603.6" y1="201.3" x2="603.6" y2="203.8" stroke="#111" stroke-width="1"/>
<line x1="643.5" y1="201.3" x2="643.5" y2="203.8" stroke="#111" stroke-width="1"/>
<line x1="683.5" y1="201.3" x2="683.5" y2="203.8" stroke="#111" stroke-width="1"/>
<line x1="723.4" y1="201.3" x2="723.4" y2="203.8" stroke="#111" stroke-width="1"/>
<line x1="763.4" y1="201.3" x2="763.4" y2="203.8" stroke="#111" stroke-width="1"/>
<line x1="559.6" y1="170.5" x2="563.6" y2="170.5" stroke="#111" stroke-width="1.3"/>
<text class="s" x="558.1" y="174.5" font-size="11" text-anchor="end">52</text>
<line x1="559.6" y1="129.1" x2="563.6" y2="129.1" stroke="#111" stroke-width="1.3"/>
<text class="s" x="558.1" y="133.1" font-size="11" text-anchor="end">56</text>
<line x1="559.6" y1="87.6" x2="563.6" y2="87.6" stroke="#111" stroke-width="1.3"/>
<text class="s" x="558.1" y="91.6" font-size="11" text-anchor="end">60</text>
<line x1="559.6" y1="46.2" x2="563.6" y2="46.2" stroke="#111" stroke-width="1.3"/>
<text class="s" x="558.1" y="50.2" font-size="11" text-anchor="end">64</text>
<line x1="561.1" y1="191.2" x2="563.6" y2="191.2" stroke="#111" stroke-width="1"/>
<line x1="561.1" y1="149.8" x2="563.6" y2="149.8" stroke="#111" stroke-width="1"/>
<line x1="561.1" y1="108.3" x2="563.6" y2="108.3" stroke="#111" stroke-width="1"/>
<line x1="561.1" y1="66.9" x2="563.6" y2="66.9" stroke="#111" stroke-width="1"/>
<line x1="561.1" y1="25.5" x2="563.6" y2="25.5" stroke="#111" stroke-width="1"/>
<circle cx="580.2" cy="33" r="1.9" fill="#6fb0d6"/>
<line x1="566.5" y1="48" x2="594.5" y2="48" stroke="#5aa2c8" stroke-width="2"/>
<circle cx="580.2" cy="62.3" r="1.9" fill="#dcb088"/>
<line x1="566.5" y1="76.5" x2="594.5" y2="76.5" stroke="#dfa274" stroke-width="2"/>
<text class="s" x="595.8" y="36.8" font-size="11.5">Control</text>
<text class="s" x="595.8" y="51.8" font-size="11.5">Fitting line</text>
<text class="s" x="595.8" y="66.1" font-size="11.5">TPTA</text>
<text class="s" x="595.8" y="80.3" font-size="11.5">Fitting line</text>
<text class="s" x="568.8" y="96" font-size="11.5" fill="#9cc2d8">Γ<tspan font-size="7" dy="2">0</tspan><tspan dy="-2">=55.8meV</tspan></text>
<text class="s" x="568.8" y="114" font-size="11.5" fill="#9cc2d8">γ<tspan font-size="7" dy="2">LO</tspan><tspan dy="-2">=2553.5meV</tspan></text>
<text class="s" x="699" y="159.5" font-size="11.5" fill="#e6bc9a">Γ<tspan font-size="7" dy="2">0</tspan><tspan dy="-2">=50.1meV</tspan></text>
<text class="s" x="699" y="176.5" font-size="11.5" fill="#e6bc9a">γ<tspan font-size="7" dy="2">LO</tspan><tspan dy="-2">=317.1meV</tspan></text>
<line x1="675.7" y1="107.7" x2="652" y2="102" stroke="#5aa2c8" stroke-width="1.3"/>
<polygon points="646.5,100.4 656,99.4 654.6,105.2" fill="#5aa2c8"/>
<line x1="723.7" y1="116.8" x2="727" y2="139.5" stroke="#dfa274" stroke-width="1.3"/>
<polygon points="727.8,145 724.2,136.3 730.2,135.4" fill="#dfa274"/>
<text class="m" x="541" y="114" font-size="12.2" text-anchor="middle" transform="rotate(-90 541 114)" fill="#222">Linewidth(meV)</text>
<text class="s" x="673" y="238.5" font-size="15.3" text-anchor="middle">Temperature(K)</text>
<text class="s" x="530" y="27" font-size="21" font-weight="bold" fill="#111">(c)</text>
<rect x="844.4" y="116.7" width="46.7" height="44.1" fill="#86c2f6"/>
<rect x="903" y="40.2" width="45.9" height="120.6" fill="#86c2f6"/>
<rect x="960" y="160.8" width="47.8" height="34.8" fill="#ecb685"/>
<rect x="1018.3" y="160.8" width="46.4" height="23.2" fill="#ecb685"/>
<rect x="837.8" y="21.7" width="233" height="185.5" fill="none" stroke="#111" stroke-width="2"/>
<line x1="837.8" y1="160.8" x2="1070.8" y2="160.8" stroke="#111" stroke-width="2"/>
<line x1="834.3" y1="21.6" x2="837.8" y2="21.6" stroke="#111" stroke-width="1.3"/>
<text class="s" x="832.8" y="25.2" font-size="10.5" text-anchor="end">60</text>
<line x1="834.3" y1="44.8" x2="837.8" y2="44.8" stroke="#111" stroke-width="1.3"/>
<text class="s" x="832.8" y="48.4" font-size="10.5" text-anchor="end">50</text>
<line x1="834.3" y1="68" x2="837.8" y2="68" stroke="#111" stroke-width="1.3"/>
<text class="s" x="832.8" y="71.6" font-size="10.5" text-anchor="end">40</text>
<line x1="834.3" y1="91.2" x2="837.8" y2="91.2" stroke="#111" stroke-width="1.3"/>
<text class="s" x="832.8" y="94.8" font-size="10.5" text-anchor="end">30</text>
<line x1="834.3" y1="114.4" x2="837.8" y2="114.4" stroke="#111" stroke-width="1.3"/>
<text class="s" x="832.8" y="118" font-size="10.5" text-anchor="end">20</text>
<line x1="834.3" y1="137.6" x2="837.8" y2="137.6" stroke="#111" stroke-width="1.3"/>
<text class="s" x="832.8" y="141.2" font-size="10.5" text-anchor="end">10</text>
<line x1="834.3" y1="160.8" x2="837.8" y2="160.8" stroke="#111" stroke-width="1.3"/>
<text class="s" x="832.8" y="164.4" font-size="10.5" text-anchor="end">0</text>
<line x1="834.3" y1="184" x2="837.8" y2="184" stroke="#111" stroke-width="1.3"/>
<text class="s" x="832.8" y="187.6" font-size="10.5" text-anchor="end">−10</text>
<line x1="834.3" y1="207.2" x2="837.8" y2="207.2" stroke="#111" stroke-width="1.3"/>
<text class="s" x="832.8" y="210.8" font-size="10.5" text-anchor="end">−20</text>
<line x1="868.3" y1="207.2" x2="868.3" y2="211.2" stroke="#111" stroke-width="1.3"/>
<line x1="926.4" y1="207.2" x2="926.4" y2="211.2" stroke="#111" stroke-width="1.3"/>
<line x1="983.6" y1="207.2" x2="983.6" y2="211.2" stroke="#111" stroke-width="1.3"/>
<line x1="1041.1" y1="207.2" x2="1041.1" y2="211.2" stroke="#111" stroke-width="1.3"/>
<text class="s" x="866.7" y="174.4" font-size="11.6" text-anchor="middle" letter-spacing="0.2">19Mpa</text>
<text class="s" x="927.8" y="174.4" font-size="11.6" text-anchor="middle" letter-spacing="0.2">52Mpa</text>
<text class="s" x="982.8" y="156" font-size="11.6" text-anchor="middle" letter-spacing="0.3">-15Mpa</text>
<text class="s" x="1041.7" y="156" font-size="11.6" text-anchor="middle" letter-spacing="0.3">-10Mpa</text>
<text class="s" x="903" y="219" font-size="15.7" text-anchor="end" transform="rotate(-21.5 903 219)">Control 0h</text>
<text class="s" x="964" y="218" font-size="15.7" text-anchor="end" transform="rotate(-21.5 964 218)">Control 20h</text>
<text class="s" x="1016" y="219" font-size="15.7" text-anchor="end" transform="rotate(-21.5 1016 219)">TPTA 0h</text>
<text class="s" x="1075.5" y="219.5" font-size="15.7" text-anchor="end" transform="rotate(-21.5 1075.5 219.5)">TPTA 20h</text>
<text class="s" x="809" y="114" font-size="15.6" text-anchor="middle" transform="rotate(-90 809 114)">Stress(Mpa)</text>
<text class="s" x="790" y="28" font-size="21" font-weight="bold" fill="#111">(d)</text>
<g clip-path="url(#cE1)"><rect x="30" y="248" width="264" height="264" fill="url(#latE)" filter="url(#tem)"/></g>
<text class="s" x="41.5" y="275" font-size="22.3" font-weight="bold" fill="#ffffff">Control 20H</text>
<text class="s" x="47" y="477" font-size="16.6" font-weight="bold" fill="#ffffff">2nm</text>
<line x1="48.9" y1="487.8" x2="78.2" y2="487.8" stroke="#fff" stroke-width="2"/>
<text class="s" x="5.5" y="269" font-size="22" font-weight="bold" fill="#111">(e)</text>
<g clip-path="url(#cE2)">
<rect x="290" y="248" width="262" height="262" fill="#7a6a38" filter="url(#strainE)"/>
<rect x="290" y="248" width="262" height="262" fill="url(#latEs)" filter="url(#soft1)"/>
<g filter="url(#soft2)"><path d="M488 400 L500 392 L516 388 L524 400 L522 416 L508 420 L498 430 L486 422Z" fill="#b83c26" fill-opacity="0.6"/><path d="M499 335 L519 333 L521 362 L503 366Z" fill="#3f9a48" fill-opacity="0.5"/><path d="M505 416 L527 414 L528 430 L508 432Z" fill="#2f8a4a" fill-opacity="0.55"/><path d="M528 420 L548 418 L548 452 L534 450Z" fill="#b83c26" fill-opacity="0.5"/><path d="M524 290 L548 284 L548 336 L528 332Z" fill="#3f9a48" fill-opacity="0.4"/><path d="M476 446 L500 442 L512 470 L484 482Z" fill="#3f9a48" fill-opacity="0.3"/></g>
<g stroke="#f4ad88" stroke-width="1.3" fill="none" stroke-linecap="round" filter="url(#soft05)"><path d="M497.7 377.5 Q499.5 390 503.3 401.2"/><path d="M485.8 417.3 Q487.5 425 491.4 429.9"/><path d="M519.4 383 Q522 388.5 527.7 387.3"/><path d="M529.8 400.5 Q538 399 545.2 395.6"/><path d="M532.6 358.6 Q539 354.5 546.6 353"/><path d="M521 268 L523.5 259"/></g>
<g fill="#2a50c8" fill-opacity="0.35" filter="url(#soft1)"><rect x="372" y="253" width="9" height="2"/><rect x="538" y="254" width="8" height="2.4"/><rect x="368" y="503" width="10" height="2.5"/><rect x="545" y="470" width="3" height="10"/><rect x="294" y="258" width="2" height="9"/></g>
</g>
<rect x="409.4" y="488.7" width="137.4" height="15.3" fill="url(#scb)"/>
<text class="n" x="412.5" y="483.8" font-size="15.2" fill="#15150c">-20 %</text>
<text class="n" x="543.5" y="483.8" font-size="15.2" text-anchor="end" fill="#15150c">20 %</text>
<text class="n" x="296.5" y="271.5" font-size="19" fill="#f4f0e4">e<tspan font-size="12" dy="4">xy</tspan></text>
<rect x="553.4" y="251.2" width="255.6" height="254.8" fill="#050505"/>
<circle cx="681.6" cy="376.6" r="52" fill="url(#glowE)"/>
<circle cx="681.6" cy="376.6" r="24" fill="none" stroke="#000" stroke-opacity="0.5" stroke-width="0.9"/>
<circle cx="681.6" cy="376.6" r="26.4" fill="none" stroke="#000" stroke-opacity="0.5" stroke-width="0.9"/>
<circle cx="681.6" cy="376.6" r="28.9" fill="none" stroke="#000" stroke-opacity="0.5" stroke-width="0.9"/>
<circle cx="681.6" cy="376.6" r="31.4" fill="none" stroke="#000" stroke-opacity="0.5" stroke-width="0.9"/>
<circle cx="681.6" cy="376.6" r="33.8" fill="none" stroke="#000" stroke-opacity="0.5" stroke-width="0.9"/>
<circle cx="681.6" cy="376.6" r="36.2" fill="none" stroke="#000" stroke-opacity="0.5" stroke-width="0.9"/>
<circle cx="681.6" cy="376.6" r="38.7" fill="none" stroke="#000" stroke-opacity="0.5" stroke-width="0.9"/>
<circle cx="681.6" cy="376.6" r="41.2" fill="none" stroke="#000" stroke-opacity="0.35" stroke-width="0.9"/>
<circle cx="681.6" cy="376.6" r="43.6" fill="none" stroke="#000" stroke-opacity="0.35" stroke-width="0.9"/>
<circle cx="681.6" cy="376.6" r="46" fill="none" stroke="#000" stroke-opacity="0.35" stroke-width="0.9"/>
<g stroke="#3c4048" stroke-width="1.5" stroke-opacity="0.8"><line x1="702.1" y1="378.8" x2="702.1" y2="374.4"/><line x1="698.3" y1="388.8" x2="700.5" y2="384.9"/><line x1="689.9" y1="395.5" x2="693.8" y2="393.3"/><line x1="679.4" y1="397.1" x2="683.8" y2="397.1"/><line x1="669.4" y1="393.3" x2="673.3" y2="395.5"/><line x1="662.7" y1="384.9" x2="664.9" y2="388.8"/><line x1="661.1" y1="374.4" x2="661.1" y2="378.8"/><line x1="664.9" y1="364.4" x2="662.7" y2="368.3"/><line x1="673.3" y1="357.7" x2="669.4" y2="359.9"/><line x1="683.8" y1="356.1" x2="679.4" y2="356.1"/><line x1="693.8" y1="359.9" x2="689.9" y2="357.7"/><line x1="700.5" y1="368.3" x2="698.3" y2="364.4"/></g>
<g stroke="#7a8294" stroke-width="1.3" stroke-opacity="0.6" stroke-dasharray="1.8 1.4"><line x1="691.7" y1="379.3" x2="699.5" y2="381.4"/><line x1="689.0" y1="384.0" x2="694.7" y2="389.7"/><line x1="684.3" y1="386.7" x2="686.4" y2="394.5"/><line x1="678.9" y1="386.7" x2="676.8" y2="394.5"/><line x1="674.2" y1="384.0" x2="668.5" y2="389.7"/><line x1="671.5" y1="379.3" x2="663.7" y2="381.4"/><line x1="671.5" y1="373.9" x2="663.7" y2="371.8"/><line x1="674.2" y1="369.2" x2="668.5" y2="363.5"/><line x1="678.9" y1="366.5" x2="676.8" y2="358.7"/><line x1="684.3" y1="366.5" x2="686.4" y2="358.7"/><line x1="689.0" y1="369.2" x2="694.7" y2="363.5"/><line x1="691.7" y1="373.9" x2="699.5" y2="371.8"/></g>
<circle cx="597.3" cy="406.8" r="6.5" fill="url(#spot)" opacity="1"/>
<circle cx="765.8" cy="351.8" r="6.5" fill="url(#spot)" opacity="1"/>
<circle cx="653.2" cy="436.5" r="5.5" fill="url(#spot)" opacity="1"/>
<circle cx="624.5" cy="346.5" r="5" fill="url(#spot)" opacity="0.5"/>
<circle cx="739.5" cy="408.5" r="5" fill="url(#spot)" opacity="0.5"/>
<circle cx="711.5" cy="313.5" r="4" fill="url(#spot)" opacity="0.3"/>
<line x1="656.6" y1="428.2" x2="708" y2="321.2" stroke="#a9d06a" stroke-width="2.7" stroke-linecap="round"/><polygon points="711.0,314.9 710.7,324.9 703.4,321.4" fill="#a9d06a"/><polygon points="653.6,434.5 653.9,424.5 661.2,428.0" fill="#a9d06a"/>
<line x1="631.3" y1="349.6" x2="732.1" y2="404.4" stroke="#a9d06a" stroke-width="2.7" stroke-linecap="round"/><polygon points="738.2,407.8 728.2,407.0 732.1,399.8" fill="#a9d06a"/><polygon points="625.2,346.2 635.2,347.0 631.3,354.2" fill="#a9d06a"/>
<text class="s" x="644.5" y="335" font-size="20.5" fill="#f2f2f2">87.0°</text>
<text class="n" x="717" y="333.3" font-size="16" fill="#f0f0f0">(010)</text>
<text class="n" x="706.5" y="432.5" font-size="16" fill="#f0f0f0">(001)</text>
<text class="n" x="804.2" y="494.8" font-size="15.1" text-anchor="end" fill="#f0f0f0">[100]</text>
<rect x="814" y="250.6" width="256.5" height="255.4" fill="#e4e4e4"/>
<g clip-path="url(#cE4)">
<circle cx="936.9" cy="383.9" r="21.5" fill="#000" filter="url(#soft1)"/>
<circle cx="879.6" cy="279.7" r="6.6" fill="#000" filter="url(#soft1)"/>
<circle cx="957.9" cy="302" r="6.6" fill="#000" filter="url(#soft1)"/>
<circle cx="1037" cy="325.2" r="6.6" fill="#000" filter="url(#soft1)"/>
<circle cx="857.3" cy="360.7" r="6.6" fill="#000" filter="url(#soft1)"/>
<circle cx="1016" cy="406.8" r="6.6" fill="#000" filter="url(#soft1)"/>
<circle cx="835.5" cy="441.2" r="6.6" fill="#000" filter="url(#soft1)"/>
<circle cx="914" cy="464.4" r="6.6" fill="#000" filter="url(#soft1)"/>
<circle cx="992.8" cy="487.3" r="6.6" fill="#000" filter="url(#soft1)"/>
<circle cx="1059.8" cy="249.5" r="6.6" fill="#000" filter="url(#soft1)"/>
<circle cx="1069" cy="506" r="5" fill="#000" filter="url(#soft1)"/>
<circle cx="822" cy="252" r="2.2" fill="#000" filter="url(#soft1)"/>
</g>
<line x1="914" y1="464.4" x2="962" y2="290.3" stroke="#a9d06a" stroke-width="2.3" stroke-linecap="round"/><polyline points="963.4,299.2 962.0,290.3 956.3,297.2" fill="none" stroke="#a9d06a" stroke-width="2.3" stroke-linecap="round" stroke-linejoin="round"/><polyline points="912.6,455.5 914.0,464.4 919.7,457.5" fill="none" stroke="#a9d06a" stroke-width="2.3" stroke-linecap="round" stroke-linejoin="round"/>
<line x1="855.9" y1="358.7" x2="1019.3" y2="406.8" stroke="#a9d06a" stroke-width="2.3" stroke-linecap="round"/><polyline points="1010.4,408.0 1019.3,406.8 1012.5,401.0" fill="none" stroke="#a9d06a" stroke-width="2.3" stroke-linecap="round" stroke-linejoin="round"/><polyline points="864.8,357.5 855.9,358.7 862.7,364.5" fill="none" stroke="#a9d06a" stroke-width="2.3" stroke-linecap="round" stroke-linejoin="round"/>
<text class="n" y="297.2" font-size="11.8" fill="#4a4a98" stroke="#f4f2ff" stroke-width="2.6" stroke-opacity="0.8" paint-order="stroke" stroke-linejoin="round"><tspan x="963">0</tspan><tspan x="973.2">1</tspan><tspan x="983.4">0</tspan></text>
<text class="n" y="356.1" font-size="11.8" fill="#4a4a98" stroke="#f4f2ff" stroke-width="2.6" stroke-opacity="0.8" paint-order="stroke" stroke-linejoin="round"><tspan x="862">0</tspan><tspan x="872.2">0</tspan><tspan x="882.4">1</tspan></text><line x1="882.6" y1="347.2" x2="889" y2="347.2" stroke="#f4f2ff" stroke-opacity="0.8" stroke-width="3.4" stroke-linecap="round"/><line x1="882.6" y1="347.2" x2="889" y2="347.2" stroke="#4a4a98" stroke-width="1.2"/>
<text class="n" y="401.6" font-size="11.8" fill="#4a4a98" stroke="#f4f2ff" stroke-width="2.6" stroke-opacity="0.8" paint-order="stroke" stroke-linejoin="round"><tspan x="1020">0</tspan><tspan x="1030.2">0</tspan><tspan x="1040.4">1</tspan></text>
<text class="n" y="459.3" font-size="11.8" fill="#4a4a98" stroke="#f4f2ff" stroke-width="2.6" stroke-opacity="0.8" paint-order="stroke" stroke-linejoin="round"><tspan x="918.5">0</tspan><tspan x="928.7">1</tspan><tspan x="938.9">0</tspan></text><line x1="928.9" y1="450.4" x2="935.3" y2="450.4" stroke="#f4f2ff" stroke-opacity="0.8" stroke-width="3.4" stroke-linecap="round"/><line x1="928.9" y1="450.4" x2="935.3" y2="450.4" stroke="#4a4a98" stroke-width="1.2"/>
<text class="s" x="941.5" y="428" font-size="20" fill="#141414">90.0°</text>
<g clip-path="url(#cF1)"><rect x="30" y="508" width="264" height="264" fill="url(#latF)" filter="url(#temF)"/>
<path d="M246 500 L253 542 L244 584 L226 626 L219 668 L196 709 L178 780 L310 780 L310 500 Z" fill="#000" filter="url(#amorph)"/>
</g>
<text class="s" x="43" y="545" font-size="22.3" font-weight="bold" fill="#ffffff">TPTA 20H</text>
<text class="s" x="47" y="744" font-size="16.6" font-weight="bold" fill="#ffffff">2nm</text>
<line x1="48.9" y1="755" x2="78.2" y2="755" stroke="#fff" stroke-width="2"/>
<text class="s" x="4" y="529" font-size="22" font-weight="bold" fill="#111">(f)</text>
<rect x="292.5" y="510.5" width="260" height="260.5" fill="#f1ecd2"/>
<g clip-path="url(#cF2)">
<rect x="290" y="508" width="264" height="264" fill="url(#latFs)" filter="url(#strainF)"/>
<path d="M512 500 L518 542 L508 584 L490 626 L482 668 L460 709 L442 780 L570 780 L570 500 Z" fill="#836e3a" fill-opacity="0.9" filter="url(#soft6)"/>
</g>
<rect x="414.1" y="750.6" width="135.5" height="15.4" fill="url(#scb)"/>
<text class="n" x="416" y="745.6" font-size="15.2" fill="#15150c">-20 %</text>
<text class="n" x="547.3" y="745.6" font-size="15.2" text-anchor="end" fill="#15150c">20 %</text>
<text class="n" x="304.5" y="535.5" font-size="19" fill="#f4f0e4">e<tspan font-size="12" dy="4">xy</tspan></text>
<rect x="554.5" y="513.4" width="254.3" height="254.8" fill="#050505"/>
<circle cx="678.7" cy="638" r="25" fill="url(#glowF)"/>
<circle cx="678.7" cy="638" r="20.6" fill="none" stroke="#000" stroke-opacity="0.6" stroke-width="0.9"/>
<circle cx="678.7" cy="638" r="15.3" fill="none" stroke="#2a2e3c" stroke-width="1.7" stroke-dasharray="2.4 2.9" stroke-opacity="0.85"/>
<circle cx="678.7" cy="638" r="12" fill="none" stroke="#6a7088" stroke-width="1.2" stroke-dasharray="1.2 5.1" stroke-opacity="0.6"/>
<circle cx="714.1" cy="603.2" r="9" fill="url(#spot)" opacity="0.95"/>
<circle cx="644.4" cy="672.4" r="9" fill="url(#spot)" opacity="0.95"/>
<circle cx="591.1" cy="616" r="4.5" fill="url(#spot)" opacity="0.8"/>
<circle cx="766.9" cy="659.3" r="4.5" fill="url(#spot)" opacity="0.8"/>
<circle cx="659.6" cy="548.9" r="6" fill="url(#spot)" opacity="0.35"/>
<circle cx="697.9" cy="727.7" r="6" fill="url(#spot)" opacity="0.3"/>
<circle cx="609.9" cy="705.4" r="5.5" fill="url(#spot)" opacity="0.3"/>
<circle cx="624.9" cy="582.9" r="4.2" fill="url(#spot)" opacity="0.9"/>
<circle cx="591.5" cy="606" r="4" fill="url(#spot)" opacity="0.25"/>
<circle cx="767" cy="668" r="4" fill="url(#spot)" opacity="0.25"/>
<circle cx="748" cy="565" r="4" fill="url(#spot)" opacity="0.15"/>
<g fill="none" stroke="#bbb" stroke-opacity="0.35" stroke-width="1.2"><path d="M706 597 A9 9 0 0 1 722 598"/><path d="M708 612 A9 9 0 0 0 722 609"/><path d="M636 667 A9 9 0 0 1 652 665"/><path d="M637 680 A9 9 0 0 0 652 679"/></g>
<line x1="629.8" y1="587.8" x2="730.1" y2="691.4" stroke="#a9d06a" stroke-width="2.8" stroke-linecap="round"/><polygon points="735.0,696.4 725.7,692.7 731.6,687.0" fill="#a9d06a"/><polygon points="624.9,582.8 634.2,586.5 628.3,592.2" fill="#a9d06a"/>
<line x1="649.2" y1="667.1" x2="712.8" y2="604.9" stroke="#a9d06a" stroke-width="2.8" stroke-linecap="round"/><polygon points="717.8,600.0 714.1,609.3 708.4,603.5" fill="#a9d06a"/><polygon points="644.2,672.0 647.9,662.7 653.6,668.5" fill="#a9d06a"/>
<text class="s" x="656.5" y="600.5" font-size="20.5" fill="#f2f2f2">90.0°</text>
<text class="n" x="730.5" y="582.8" font-size="16" fill="#f0f0f0">(001)</text>
<text class="n" x="737.5" y="714.3" font-size="16" fill="#f0f0f0">(110)</text>
<text class="n" x="798.6" y="759.5" font-size="15.1" text-anchor="end" fill="#f0f0f0">[110]</text>
<rect x="814" y="514" width="256.5" height="254.8" fill="#e4e4e4"/>
<g clip-path="url(#cF4)">
<circle cx="941.9" cy="640.5" r="16.6" fill="#000" filter="url(#soft1)"/>
<circle cx="832.1" cy="519" r="6.6" fill="#000" filter="url(#soft1)"/>
<circle cx="930.5" cy="541.1" r="6.2" fill="#000" filter="url(#soft1)"/>
<circle cx="1029.7" cy="562.9" r="7" fill="#000" filter="url(#soft1)"/>
<circle cx="887.5" cy="579.6" r="4.2" fill="#000" filter="url(#soft1)"/>
<circle cx="985.8" cy="602" r="5.6" fill="#000" filter="url(#soft1)"/>
<circle cx="843.3" cy="618.2" r="6.2" fill="#000" filter="url(#soft1)"/>
<circle cx="1041.7" cy="663.5" r="6.4" fill="#000" filter="url(#soft1)"/>
<circle cx="898.4" cy="679.7" r="5.6" fill="#000" filter="url(#soft1)"/>
<circle cx="997.8" cy="701.7" r="4.4" fill="#000" filter="url(#soft1)"/>
<circle cx="855" cy="718.8" r="7.4" fill="#000" filter="url(#soft1)"/>
<circle cx="953.7" cy="741.1" r="6.2" fill="#000" filter="url(#soft1)"/>
<circle cx="1052.9" cy="763.5" r="6.4" fill="#000" filter="url(#soft1)"/>
<circle cx="812.5" cy="757" r="4.5" fill="#000" filter="url(#soft1)"/>
<circle cx="1072" cy="523.7" r="4.5" fill="#000" filter="url(#soft1)"/>
</g>
<line x1="855" y1="718.8" x2="1031.9" y2="562" stroke="#a9d06a" stroke-width="2.3" stroke-linecap="round"/><polyline points="1028.2,570.2 1031.9,562.0 1023.3,564.7" fill="none" stroke="#a9d06a" stroke-width="2.3" stroke-linecap="round" stroke-linejoin="round"/><polyline points="858.7,710.6 855.0,718.8 863.6,716.1" fill="none" stroke="#a9d06a" stroke-width="2.3" stroke-linecap="round" stroke-linejoin="round"/>
<line x1="887.5" y1="579.6" x2="997.8" y2="701.7" stroke="#a9d06a" stroke-width="2.3" stroke-linecap="round"/><polyline points="989.6,698.1 997.8,701.7 995.0,693.1" fill="none" stroke="#a9d06a" stroke-width="2.3" stroke-linecap="round" stroke-linejoin="round"/><polyline points="895.7,583.2 887.5,579.6 890.3,588.2" fill="none" stroke="#a9d06a" stroke-width="2.3" stroke-linecap="round" stroke-linejoin="round"/>
<text class="n" y="535.6" font-size="11.8" fill="#4a4a98" stroke="#f4f2ff" stroke-width="2.6" stroke-opacity="0.8" paint-order="stroke" stroke-linejoin="round"><tspan x="933.6">1</tspan><tspan x="943.8">1</tspan><tspan x="954">1</tspan></text><line x1="933.8" y1="526.7" x2="940.2" y2="526.7" stroke="#f4f2ff" stroke-opacity="0.8" stroke-width="3.4" stroke-linecap="round"/><line x1="933.8" y1="526.7" x2="940.2" y2="526.7" stroke="#4a4a98" stroke-width="1.2"/>
<text class="n" y="558.9" font-size="11.8" fill="#4a4a98" stroke="#f4f2ff" stroke-width="2.6" stroke-opacity="0.8" paint-order="stroke" stroke-linejoin="round"><tspan x="1032.7">0</tspan><tspan x="1042.9">0</tspan><tspan x="1053.1">2</tspan></text>
<text class="n" y="597.1" font-size="11.8" fill="#4a4a98" stroke="#f4f2ff" stroke-width="2.6" stroke-opacity="0.8" paint-order="stroke" stroke-linejoin="round"><tspan x="988.6">0</tspan><tspan x="998.8">0</tspan><tspan x="1009">1</tspan></text>
<text class="n" y="613.3" font-size="11.8" fill="#4a4a98" stroke="#f4f2ff" stroke-width="2.6" stroke-opacity="0.8" paint-order="stroke" stroke-linejoin="round"><tspan x="847.5">1</tspan><tspan x="857.7">1</tspan><tspan x="867.9">1</tspan></text><line x1="847.7" y1="604.4" x2="854.1" y2="604.4" stroke="#f4f2ff" stroke-opacity="0.8" stroke-width="3.4" stroke-linecap="round"/><line x1="847.7" y1="604.4" x2="854.1" y2="604.4" stroke="#4a4a98" stroke-width="1.2"/><line x1="868.1" y1="604.4" x2="874.5" y2="604.4" stroke="#f4f2ff" stroke-opacity="0.8" stroke-width="3.4" stroke-linecap="round"/><line x1="868.1" y1="604.4" x2="874.5" y2="604.4" stroke="#4a4a98" stroke-width="1.2"/>
<g clip-path="url(#cF4)"><text class="n" y="658.5" font-size="11.8" fill="#4a4a98" stroke="#f4f2ff" stroke-width="2.6" stroke-opacity="0.8" paint-order="stroke" stroke-linejoin="round"><tspan x="1044.5">1</tspan><tspan x="1054.7">1</tspan><tspan x="1064.9">1</tspan></text><line x1="1054.9" y1="649.6" x2="1061.3" y2="649.6" stroke="#f4f2ff" stroke-opacity="0.8" stroke-width="3.4" stroke-linecap="round"/><line x1="1054.9" y1="649.6" x2="1061.3" y2="649.6" stroke="#4a4a98" stroke-width="1.2"/><text class="n" y="759.1" font-size="11.8" fill="#4a4a98" stroke="#f4f2ff" stroke-width="2.6" stroke-opacity="0.8" paint-order="stroke" stroke-linejoin="round"><tspan x="1055.7">2</tspan><tspan x="1065.9">2</tspan></text><line x1="1066.1" y1="750.2" x2="1072.5" y2="750.2" stroke="#f4f2ff" stroke-opacity="0.8" stroke-width="3.4" stroke-linecap="round"/><line x1="1066.1" y1="750.2" x2="1072.5" y2="750.2" stroke="#4a4a98" stroke-width="1.2"/></g>
<text class="n" y="674.7" font-size="11.8" fill="#4a4a98" stroke="#f4f2ff" stroke-width="2.6" stroke-opacity="0.8" paint-order="stroke" stroke-linejoin="round"><tspan x="902">0</tspan><tspan x="912.2">0</tspan><tspan x="922.4">1</tspan></text><line x1="922.6" y1="665.8" x2="929" y2="665.8" stroke="#f4f2ff" stroke-opacity="0.8" stroke-width="3.4" stroke-linecap="round"/><line x1="922.6" y1="665.8" x2="929" y2="665.8" stroke="#4a4a98" stroke-width="1.2"/>
<text class="n" y="713.9" font-size="11.8" fill="#4a4a98" stroke="#f4f2ff" stroke-width="2.6" stroke-opacity="0.8" paint-order="stroke" stroke-linejoin="round"><tspan x="858.1">0</tspan><tspan x="868.3">0</tspan><tspan x="878.5">2</tspan></text><line x1="878.7" y1="705" x2="885.1" y2="705" stroke="#f4f2ff" stroke-opacity="0.8" stroke-width="3.4" stroke-linecap="round"/><line x1="878.7" y1="705" x2="885.1" y2="705" stroke="#4a4a98" stroke-width="1.2"/>
<text class="n" y="736.8" font-size="11.8" fill="#4a4a98" stroke="#f4f2ff" stroke-width="2.6" stroke-opacity="0.8" paint-order="stroke" stroke-linejoin="round"><tspan x="957">1</tspan><tspan x="967.2">1</tspan><tspan x="977.4">1</tspan></text><line x1="967.4" y1="727.9" x2="973.8" y2="727.9" stroke="#f4f2ff" stroke-opacity="0.8" stroke-width="3.4" stroke-linecap="round"/><line x1="967.4" y1="727.9" x2="973.8" y2="727.9" stroke="#4a4a98" stroke-width="1.2"/><line x1="977.6" y1="727.9" x2="984" y2="727.9" stroke="#f4f2ff" stroke-opacity="0.8" stroke-width="3.4" stroke-linecap="round"/><line x1="977.6" y1="727.9" x2="984" y2="727.9" stroke="#4a4a98" stroke-width="1.2"/>
<text class="n" y="550.4" font-size="11.8" fill="#4a4a98" stroke="#f4f2ff" stroke-width="2.6" stroke-opacity="0.8" paint-order="stroke" stroke-linejoin="round"><tspan x="814.5">1</tspan></text><line x1="814.7" y1="541.5" x2="821.1" y2="541.5" stroke="#f4f2ff" stroke-opacity="0.8" stroke-width="3.4" stroke-linecap="round"/><line x1="814.7" y1="541.5" x2="821.1" y2="541.5" stroke="#4a4a98" stroke-width="1.2"/>
<text class="n" x="971" y="647.5" font-size="15.5" fill="#181818">90.0°</text>
<polyline points="100.7,807.6 169.7,894.1 255.1,922.5" fill="none" stroke="#d8a468" stroke-width="1.8" stroke-linejoin="round"/>
<circle cx="100.7" cy="806.4" r="2" fill="#d9ae7c"/>
<circle cx="115.5" cy="826.3" r="2" fill="#d9ae7c"/>
<circle cx="131.6" cy="845.8" r="2" fill="#d9ae7c"/>
<circle cx="147.2" cy="866.4" r="2" fill="#d9ae7c"/>
<circle cx="163.8" cy="887.3" r="2" fill="#d9ae7c"/>
<circle cx="181.3" cy="896" r="2" fill="#d9ae7c"/>
<circle cx="198.7" cy="901.6" r="2" fill="#d9ae7c"/>
<circle cx="217" cy="911.3" r="2" fill="#d9ae7c"/>
<circle cx="235.8" cy="915" r="2" fill="#d9ae7c"/>
<circle cx="255.1" cy="921.3" r="2" fill="#d9ae7c"/>
<polyline points="100.7,834.4 170.5,906.4 255.1,933.0" fill="none" stroke="#5aaede" stroke-width="1.8" stroke-linejoin="round"/>
<circle cx="100.7" cy="836.6" r="2" fill="#6ab4dc"/>
<circle cx="115.5" cy="849.5" r="2" fill="#6ab4dc"/>
<circle cx="131.6" cy="867.8" r="2" fill="#6ab4dc"/>
<circle cx="147.2" cy="882.3" r="2" fill="#6ab4dc"/>
<circle cx="163.8" cy="900.1" r="2" fill="#6ab4dc"/>
<circle cx="181.3" cy="908.3" r="2" fill="#6ab4dc"/>
<circle cx="198.7" cy="915.9" r="2" fill="#6ab4dc"/>
<circle cx="217" cy="922.6" r="2" fill="#6ab4dc"/>
<circle cx="235.8" cy="927" r="2" fill="#6ab4dc"/>
<circle cx="255.1" cy="934.1" r="2" fill="#6ab4dc"/>
<polyline points="100.7,854.6 169.2,914.5 255.1,943.7" fill="none" stroke="#c24364" stroke-width="1.8" stroke-linejoin="round"/>
<circle cx="100.7" cy="855.4" r="2" fill="#c45470"/>
<circle cx="115.5" cy="865.6" r="2" fill="#c45470"/>
<circle cx="131.6" cy="882.8" r="2" fill="#c45470"/>
<circle cx="147.2" cy="895.7" r="2" fill="#c45470"/>
<circle cx="163.8" cy="908.9" r="2" fill="#c45470"/>
<circle cx="181.3" cy="916.5" r="2" fill="#c45470"/>
<circle cx="198.7" cy="926.1" r="2" fill="#c45470"/>
<circle cx="217" cy="930.6" r="2" fill="#c45470"/>
<circle cx="235.8" cy="938.1" r="2" fill="#c45470"/>
<circle cx="255.1" cy="945.4" r="2" fill="#c45470"/>
<polyline points="100.7,868.0 168.6,918.5 255.1,949.9" fill="none" stroke="#4c4c4c" stroke-width="1.8" stroke-linejoin="round"/>
<circle cx="100.7" cy="868.9" r="2" fill="#666"/>
<circle cx="115.5" cy="880.9" r="2" fill="#666"/>
<circle cx="131.6" cy="890.5" r="2" fill="#666"/>
<circle cx="147.2" cy="903.9" r="2" fill="#666"/>
<circle cx="163.8" cy="914.7" r="2" fill="#666"/>
<circle cx="181.3" cy="925" r="2" fill="#666"/>
<circle cx="198.7" cy="931.1" r="2" fill="#666"/>
<circle cx="217" cy="934.3" r="2" fill="#666"/>
<circle cx="235.8" cy="941.3" r="2" fill="#666"/>
<circle cx="255.1" cy="948.7" r="2" fill="#666"/>
<rect x="70.4" y="786.6" width="205.6" height="165.5" fill="none" stroke="#111" stroke-width="2"/>
<line x1="66.9" y1="793.6" x2="70.4" y2="793.6" stroke="#111" stroke-width="1.2"/>
<text class="s" x="65.4" y="797.2" font-size="10.5" text-anchor="end">−11.6</text>
<line x1="66.9" y1="821" x2="70.4" y2="821" stroke="#111" stroke-width="1.2"/>
<text class="s" x="65.4" y="824.6" font-size="10.5" text-anchor="end">−12.0</text>
<line x1="66.9" y1="848.4" x2="70.4" y2="848.4" stroke="#111" stroke-width="1.2"/>
<text class="s" x="65.4" y="852" font-size="10.5" text-anchor="end">−12.4</text>
<line x1="66.9" y1="875.8" x2="70.4" y2="875.8" stroke="#111" stroke-width="1.2"/>
<text class="s" x="65.4" y="879.4" font-size="10.5" text-anchor="end">−12.8</text>
<line x1="66.9" y1="903.2" x2="70.4" y2="903.2" stroke="#111" stroke-width="1.2"/>
<text class="s" x="65.4" y="906.8" font-size="10.5" text-anchor="end">−13.2</text>
<line x1="66.9" y1="930.6" x2="70.4" y2="930.6" stroke="#111" stroke-width="1.2"/>
<text class="s" x="65.4" y="934.2" font-size="10.5" text-anchor="end">−13.6</text>
<line x1="88.6" y1="952.1" x2="88.6" y2="955.6" stroke="#111" stroke-width="1.2"/>
<text class="s" x="88.6" y="966.4" font-size="10.5" text-anchor="middle">2.8</text>
<line x1="126.1" y1="952.1" x2="126.1" y2="955.6" stroke="#111" stroke-width="1.2"/>
<text class="s" x="126.1" y="966.4" font-size="10.5" text-anchor="middle">2.9</text>
<line x1="163.6" y1="952.1" x2="163.6" y2="955.6" stroke="#111" stroke-width="1.2"/>
<text class="s" x="163.6" y="966.4" font-size="10.5" text-anchor="middle">3.0</text>
<line x1="201.1" y1="952.1" x2="201.1" y2="955.6" stroke="#111" stroke-width="1.2"/>
<text class="s" x="201.1" y="966.4" font-size="10.5" text-anchor="middle">3.1</text>
<line x1="238.6" y1="952.1" x2="238.6" y2="955.6" stroke="#111" stroke-width="1.2"/>
<text class="s" x="238.6" y="966.4" font-size="10.5" text-anchor="middle">3.2</text>
<line x1="276.1" y1="952.1" x2="276.1" y2="955.6" stroke="#111" stroke-width="1.2"/>
<text class="s" x="276.1" y="966.4" font-size="10.5" text-anchor="middle">3.3</text>
<circle cx="224.2" cy="794.2" r="2.1" fill="#666"/>
<text class="s" x="238.5" y="797.8" font-size="10.8">Control</text>
<circle cx="224.2" cy="807.6" r="2.1" fill="#c45470"/>
<text class="s" x="238.5" y="811.2" font-size="10.8">TAPB</text>
<circle cx="224.2" cy="821" r="2.1" fill="#6ab4dc"/>
<text class="s" x="238.5" y="824.6" font-size="10.8">TAPOB</text>
<circle cx="224.2" cy="834.4" r="2.1" fill="#d9ae7c"/>
<text class="s" x="238.5" y="838" font-size="10.8">TPTA</text>
<text class="s" x="174.5" y="869" font-size="10.8" fill="#7fbde0">E<tspan font-size="6.5" dy="2">a</tspan><tspan font-size="5" dy="-6.5">ion</tspan><tspan dy="4.5">=452.9meV</tspan></text>
<text class="s" x="174.5" y="885" font-size="10.8" fill="#ddb488">E<tspan font-size="6.5" dy="2">a</tspan><tspan font-size="5" dy="-6.5">ion</tspan><tspan dy="4.5">=563.3meV</tspan></text>
<text class="s" x="80" y="922" font-size="10.8" fill="#777">E<tspan font-size="6.5" dy="2">a</tspan><tspan font-size="5" dy="-6.5">ion</tspan><tspan dy="4.5">=347.3meV</tspan></text>
<text class="s" x="80" y="938" font-size="10.8" fill="#cf6c84">E<tspan font-size="6.5" dy="2">a</tspan><tspan font-size="5" dy="-6.5">ion</tspan><tspan dy="4.5">=403.3meV</tspan></text>
<text class="s" x="35.5" y="869.4" font-size="13.5" text-anchor="middle" transform="rotate(-90 35.5 869.4)">ln(σT)</text>
<text class="s" x="173.2" y="988.8" font-size="13.5" text-anchor="middle">1000/T(K<tspan font-size="8.5" dy="-5">-1</tspan><tspan dy="5">)</tspan></text>
<text class="s" x="6.7" y="798.2" font-size="22" font-weight="bold" fill="#111">(g)</text>
<rect x="324.5" y="783.4" width="25.3" height="167.9" fill="#b9b9b9"/>
<rect x="349.8" y="783.4" width="36.4" height="167.9" fill="#dcefdf"/>
<rect x="386.2" y="783.4" width="84.5" height="167.9" fill="#fdf1cb"/>
<rect x="470.7" y="783.4" width="39.9" height="167.9" fill="#eccba4"/>
<rect x="510.6" y="783.4" width="35.4" height="167.9" fill="#dde2f0"/>
<g clip-path="url(#cH)">
<polyline points="324.5,858.5 326.1,858.5 327.7,858.2 329.2,858.9 330.8,858.4 332.4,859.0 334.0,858.2 335.6,858.4 337.2,858.2 338.7,858.7 340.3,858.5 341.9,858.7 343.5,860.3 345.1,861.4 346.6,863.5 348.2,864.5 349.8,865.3 351.4,867.1 353.0,868.9 353.5,867.1 354.0,869.4 354.5,870.4 355.0,870.2 355.5,871.3 356.0,871.6 356.5,872.1 357.0,870.1 357.5,872.6 358.0,872.9 358.5,872.8 359.1,871.8 359.6,874.7 360.1,875.6 360.6,872.6 361.1,877.4 361.6,876.7 362.1,875.9 362.6,874.5 363.1,878.7 363.6,880.9 364.1,877.7 364.6,879.6 365.1,879.9 365.6,879.3 366.1,880.0 366.6,880.4 367.2,881.8 367.7,880.0 368.2,880.2 368.7,882.5 369.2,883.6 369.7,882.5 370.2,883.3 370.7,885.8 371.2,885.5 371.7,883.8 372.2,885.8 372.7,886.5 373.2,886.1 373.7,886.9 374.2,887.2 374.7,890.4 375.3,885.3 375.8,888.0 376.3,890.0 376.8,887.5 377.3,888.9 377.8,889.7 378.3,888.5 378.8,887.0 379.3,890.0 379.8,888.7 380.3,888.2 380.8,893.6 381.3,893.2 381.8,891.4 382.3,895.9 382.8,893.9 383.4,891.7 383.9,892.6 384.4,893.8 384.9,898.6 385.4,891.6 385.9,895.2 386.4,895.3 386.9,896.3 387.4,900.8 387.9,900.7 388.4,900.8 388.9,895.4 389.4,901.1 389.9,900.4 390.4,900.9 390.9,899.8 391.5,900.4 392.0,901.3 392.5,904.8 393.0,909.1 393.5,902.9 394.0,903.1 394.5,901.6 395.0,904.8 395.5,906.4 396.0,904.7 396.5,909.4 397.0,908.8 397.5,909.2 398.0,906.9 398.5,903.3 399.1,906.8 399.6,906.4 400.1,909.0 400.6,909.4 401.1,911.6 401.6,911.8 402.1,917.4 402.6,915.0 403.1,915.8 403.6,911.2 404.1,912.1 404.6,911.3 405.1,910.7 405.6,916.0 406.1,913.0 406.6,911.0 407.2,916.8 407.7,914.3 408.2,918.3 408.7,923.0 409.2,918.5 409.7,921.8 410.2,919.6 410.7,921.8 411.2,919.9 411.7,928.2 412.2,915.3 412.7,918.1 413.2,924.1 413.7,926.4 414.2,923.8 414.7,921.9 415.3,923.2 415.8,923.7 416.3,932.6 416.8,930.0 417.3,921.4 417.8,925.9 418.3,932.9 418.8,930.9 419.3,933.6 419.8,932.4 420.3,924.2 420.8,930.2 421.3,925.1 421.8,929.4 422.3,936.8 422.8,933.7 423.4,921.6 423.9,935.1 424.4,936.8 424.9,927.2 425.4,932.7 425.9,933.5 426.4,927.3 426.9,942.3 427.4,932.8 427.9,940.0 428.4,942.0 428.9,939.7 429.4,930.8 429.9,936.9 430.4,944.8 430.9,941.5 431.5,929.4 432.0,931.8 432.5,941.8 433.0,925.5 433.5,938.6 434.0,942.6 434.5,937.7 435.0,932.8 435.5,929.7 436.0,932.5 436.5,939.5 437.0,940.2 437.5,944.5 438.0,938.1 438.5,940.7 439.0,936.8 439.6,944.1 440.1,940.6 440.6,942.5 441.1,944.1 441.6,944.1 442.1,943.4 442.6,944.3 443.1,936.0 443.6,938.3 444.1,945.1 444.6,936.5 445.1,938.9 445.6,942.0 446.1,941.8 446.6,945.1 447.1,934.0 447.7,930.3 448.2,929.4 448.7,931.0 449.2,945.1 449.7,938.4 450.2,942.9 450.7,936.8 451.2,940.0 451.7,940.6 452.2,936.9 452.7,931.6 453.2,942.2 453.7,935.8 454.2,929.9 454.7,941.9 455.2,934.0 455.8,944.6 456.3,939.0 456.8,942.8 457.3,933.9 457.8,935.6 458.3,942.5 458.8,933.5 459.3,930.2 459.8,941.4 460.3,939.0 460.8,934.6 461.3,941.9 461.8,938.4 462.3,943.3 462.8,935.2 463.3,938.2 463.9,936.3 464.4,930.1 464.9,932.0 465.4,938.8 465.9,939.4 466.4,939.2 466.9,925.1 467.4,936.3 467.9,932.8 468.4,927.8 468.9,933.3 469.4,937.2 469.9,925.3 470.4,931.2 470.9,927.0 471.4,927.1 472.0,928.2 472.5,923.9 473.0,925.3 473.5,926.8 474.0,924.8 474.5,922.3 475.0,919.2 475.5,914.4 476.0,918.7 476.5,920.7 477.0,913.5 477.5,917.9 478.0,917.6 478.5,920.7 479.0,922.1 479.6,917.2 480.1,916.4 480.6,915.4 481.1,914.9 481.6,918.7 482.1,915.6 482.6,915.6 483.1,913.3 483.6,913.1 484.1,914.4 484.6,913.1 485.1,916.6 485.6,914.6 486.1,912.0 486.6,911.7 487.1,913.4 487.7,911.0 488.2,915.1 488.7,912.4 489.2,912.5 489.7,911.2 490.2,911.0 490.7,912.0 491.2,913.2 491.7,911.1 492.2,911.1 492.7,912.2 493.2,909.3 493.7,910.9 494.2,912.0 494.7,909.6 495.2,911.5 495.8,911.9 496.3,912.4 496.8,912.3 497.3,912.9 497.8,914.6 498.3,911.2 498.8,914.3 499.3,913.8 499.8,910.6 500.3,913.5 500.8,911.2 501.3,915.3 501.8,915.5 502.3,913.0 502.8,914.1 503.3,916.8 503.9,916.2 504.4,913.3 504.9,914.0 505.4,914.0 505.9,913.9 506.4,916.4 506.9,915.5 507.4,916.0 507.9,915.1 508.4,914.0 508.9,916.1 509.4,918.2 509.9,913.4 510.4,915.8 510.9,917.3 511.4,914.8 512.0,913.4 512.5,915.2 513.0,916.2 513.5,915.6 514.0,912.9 514.5,915.1 515.0,917.5 515.5,915.3 516.0,915.5 516.5,916.4 517.0,918.0 517.5,917.3 518.0,915.9 518.5,916.1 519.0,917.4 519.5,918.6 520.1,913.9 520.6,921.3 521.1,918.7 521.6,920.1 522.1,918.1 522.6,917.7 523.1,918.6 523.6,919.5 524.1,918.6 524.6,917.1 525.1,920.9 525.6,922.0 526.1,920.0 526.6,917.4 527.1,918.5 527.6,918.8 528.2,920.3 528.7,920.5 529.2,918.0 529.7,919.0 530.2,922.5 530.7,920.7 531.2,923.4 531.7,924.7 532.2,920.2 532.7,920.1 533.2,924.3 533.7,922.9 534.2,923.0 534.7,917.1 535.2,923.4 535.7,922.6 536.3,920.9 536.8,921.8 537.3,921.7 537.8,924.2 538.3,918.9 538.8,923.6 539.3,921.5 539.8,925.1 540.3,924.3 540.8,922.7 541.3,921.6 541.8,923.5 542.3,924.5 542.8,924.3 543.3,922.4 543.8,926.4 544.4,926.7 544.9,923.9 545.4,930.7 545.9,923.4" fill="none" stroke="#585858" stroke-width="1.4" stroke-linejoin="round"/>
<polyline points="324.5,884.7 325.0,886.1 325.5,893.6 326.0,891.5 326.5,885.8 327.0,899.1 327.5,898.4 328.0,890.3 328.6,893.7 329.1,895.8 329.6,891.3 330.1,897.0 330.6,893.8 331.1,890.2 331.6,899.7 332.1,891.3 332.6,897.5 333.1,889.0 333.6,897.5 334.1,901.2 334.6,899.7 335.1,893.3 335.6,897.9 336.1,893.4 336.7,898.5 337.2,897.5 337.7,891.7 338.2,889.5 338.7,887.0 339.2,887.5 339.7,885.8 340.2,884.1 340.7,882.1 341.2,881.6 341.7,879.7 342.2,876.9 342.7,875.0 343.2,877.2 343.7,875.8 344.2,871.7 344.8,873.0 345.3,866.8 345.8,867.7 346.3,868.0 346.8,867.3 347.3,866.6 347.8,867.4 348.3,867.9 348.8,866.2 349.3,870.1 349.8,870.2 350.3,868.6 350.8,867.5 351.3,868.1 351.8,870.0 352.3,872.4 352.9,867.9 353.4,870.5 353.9,872.8 354.4,869.9 354.9,872.4 355.4,872.1 355.9,871.3 356.4,873.1 356.9,873.2 357.4,874.8 357.9,874.1 358.4,876.1 358.9,876.3 359.4,875.2 359.9,875.5 360.4,876.4 361.0,877.3 361.5,879.4 362.0,879.0 362.5,880.1 363.0,876.4 363.5,880.5 364.0,880.0 364.5,881.0 365.0,880.8 365.5,880.3 366.0,879.3 366.5,881.8 367.0,882.0 367.5,883.8 368.0,882.9 368.5,883.0 369.1,886.4 369.6,886.4 370.1,885.1 370.6,883.1 371.1,888.6 371.6,885.3 372.1,886.3 372.6,886.5 373.1,885.2 373.6,891.1 374.1,892.6 374.6,890.3 375.1,888.9 375.6,890.5 376.1,888.8 376.6,890.5 377.2,893.4 377.7,889.5 378.2,892.3 378.7,893.1 379.2,891.0 379.7,892.3 380.2,890.3 380.7,894.6 381.2,896.0 381.7,897.1 382.2,891.3 382.7,894.0 383.2,895.0 383.7,897.5 384.2,892.8 384.7,891.6 385.3,888.8 385.8,896.0 386.3,885.9 386.8,888.8 387.3,892.9 387.8,892.5 388.3,894.2 388.8,898.1 389.3,896.4 389.8,892.5 390.3,898.5 390.8,891.0 391.3,895.3 391.8,893.8 392.3,888.2 392.8,893.2 393.4,896.2 393.9,899.9 394.4,889.4 394.9,893.5 395.4,891.0 395.9,890.5 396.4,892.8 396.9,895.8 397.4,894.6 397.9,892.1 398.4,896.7 398.9,893.9 399.4,894.9 399.9,898.4 400.4,888.1 400.9,893.7 401.5,893.3 402.0,888.9 402.5,892.6 403.0,887.4 403.5,890.5 404.0,898.9 404.5,891.4 405.0,893.1 405.5,891.8 406.0,895.3 406.5,892.1 407.0,892.1 407.5,893.7 408.0,884.3 408.5,891.3 409.0,891.2 409.6,888.6 410.1,887.7 410.6,891.5 411.1,892.2 411.6,888.2 412.1,890.4 412.6,886.7 413.1,887.6 413.6,893.9 414.1,892.3 414.6,891.8 415.1,889.4 415.6,893.9 416.1,890.9 416.6,886.9 417.2,890.0 417.7,890.8 418.2,891.5 418.7,884.3 419.2,884.5 419.7,888.9 420.2,893.7 420.7,891.0 421.2,882.4 421.7,886.5 422.2,890.1 422.7,889.0 423.2,889.0 423.7,891.8 424.2,889.0 424.7,892.0 425.3,891.9 425.8,887.9 426.3,890.8 426.8,894.3 427.3,893.5 427.8,887.1 428.3,886.1 428.8,893.8 429.3,889.1 429.8,892.4 430.3,887.4 430.8,889.9 431.3,886.1 431.8,890.1 432.3,889.6 432.8,891.5 433.4,892.3 433.9,894.4 434.4,889.9 434.9,888.8 435.4,890.5 435.9,887.5 436.4,894.7 436.9,890.5 437.4,890.4 437.9,888.5 438.4,891.9 438.9,891.4 439.4,893.6 439.9,892.8 440.4,890.1 440.9,889.3 441.5,893.1 442.0,896.3 442.5,891.1 443.0,889.9 443.5,893.7 444.0,888.3 444.5,896.3 445.0,894.4 445.5,896.9 446.0,886.9 446.5,889.1 447.0,891.7 447.5,889.0 448.0,890.3 448.5,887.2 449.0,887.7 449.6,888.7 450.1,890.5 450.6,893.3 451.1,885.2 451.6,893.5 452.1,890.4 452.6,894.4 453.1,894.7 453.6,889.8 454.1,888.7 454.6,889.3 455.1,891.2 455.6,892.0 456.1,894.3 456.6,893.5 457.1,890.3 457.7,891.2 458.2,892.6 458.7,894.8 459.2,894.6 459.7,890.9 460.2,895.6 460.7,892.0 461.2,896.3 461.7,888.7 462.2,897.6 462.7,894.4 463.2,891.7 463.7,891.0 464.2,887.7 464.7,886.4 465.2,887.6 465.8,887.5 466.3,886.3 466.8,887.2 467.3,885.0 467.8,883.2 468.3,881.5 468.8,882.1 469.3,876.0 469.8,878.7 470.3,877.2 470.8,871.4 471.3,869.0 471.8,869.1 473.4,863.7 475.0,859.1 476.6,853.8 478.2,849.6 479.7,846.0 481.3,843.9 482.9,842.3 484.5,841.7 486.1,839.6 487.7,837.8 489.2,836.1 490.8,835.3 492.4,834.4 494.0,833.8 495.6,833.3 497.1,833.1 498.7,831.7 500.3,831.6 501.9,831.3 503.5,830.4 505.1,830.7 506.6,830.3 508.2,830.2 509.8,830.1 511.4,829.9 513.0,828.9 514.5,828.9 516.1,829.3 517.7,828.5 519.3,828.6 520.9,828.2 522.5,828.2 524.0,828.1 525.6,828.6 527.2,827.6 528.8,827.8 530.4,827.8 532.0,827.9 533.5,827.8 535.1,827.6 536.7,828.1 538.3,827.9 539.9,827.9 541.4,827.9 543.0,827.8 544.6,827.5" fill="none" stroke="#8a5656" stroke-width="1.4" stroke-linejoin="round"/>
<polyline points="324.5,879.7 325.0,878.7 325.5,881.5 326.0,881.6 326.5,882.3 327.0,886.7 327.5,893.2 328.0,892.4 328.6,896.2 329.1,898.5 329.6,906.2 330.1,907.0 330.6,910.8 331.1,910.5 331.6,910.6 332.1,914.3 332.6,919.9 333.1,919.8 333.6,920.7 334.1,923.9 334.6,925.9 335.1,926.4 335.6,926.4 336.1,926.1 336.7,934.9 337.2,927.7 337.7,930.1 338.2,936.7 338.7,934.4 339.2,939.0 339.7,929.1 340.2,930.9 340.7,927.6 341.2,926.1 341.7,927.9 342.2,921.1 342.7,923.2 343.2,920.1 343.7,918.4 344.2,912.4 344.8,911.5 345.3,907.8 345.8,910.2 346.3,906.8 346.8,903.2 347.3,907.3 347.8,907.6 348.3,905.1 348.8,907.1 349.3,907.1 349.8,907.6 350.3,907.1 350.8,908.0 351.3,910.8 351.8,911.3 352.3,909.1 352.9,912.7 353.4,913.1 353.9,910.5 354.4,914.3 354.9,914.3 355.4,914.8 355.9,916.1 356.4,914.9 356.9,916.2 357.4,918.0 357.9,915.2 358.4,918.1 358.9,915.6 359.4,918.1 359.9,916.7 360.4,919.1 361.0,919.2 361.5,919.0 362.0,918.8 362.5,918.8 363.0,922.0 363.5,922.3 364.0,920.0 364.5,920.1 365.0,922.8 365.5,918.6 366.0,918.9 366.5,919.5 367.0,919.2 367.5,916.3 368.0,919.9 368.5,917.7 369.1,917.5 369.6,916.8 370.1,920.5 370.6,919.6 371.1,918.0 371.6,916.8 372.1,918.2 372.6,919.0 373.1,918.4 373.6,917.2 374.1,914.9 374.6,915.3 375.1,914.6 375.6,913.8 376.1,913.5 376.6,914.4 377.2,911.8 377.7,914.3 378.2,910.3 378.7,911.2 379.2,911.5 379.7,909.7 380.2,909.9 380.7,910.8 381.2,908.8 381.7,910.4 382.2,908.8 382.7,910.2 383.2,907.8 383.7,907.9 384.2,907.3 384.7,908.3 385.3,904.5 385.8,908.1 386.3,906.2 386.8,906.2 387.3,904.9 387.8,904.1 388.3,904.9 388.8,901.7 389.3,901.2 389.8,903.8 390.3,903.6 390.8,899.3 391.3,897.4 391.8,899.7 392.3,899.8 392.8,899.8 393.4,901.8 393.9,901.1 394.4,902.2 394.9,903.5 395.4,904.6 395.9,902.9 396.4,904.3 396.9,904.3 397.4,905.7 397.9,906.1 398.4,908.6 398.9,909.3 399.4,907.7 399.9,908.9 400.4,908.9 400.9,909.7 401.5,910.7 402.0,909.9 402.5,912.8 403.0,914.0 403.5,913.8 404.0,912.6 404.5,915.4 405.0,913.3 405.5,912.7 406.0,914.1 406.5,915.8 407.0,916.3 407.5,916.3 408.0,918.0 408.5,915.7 409.0,916.0 409.6,919.7 410.1,918.1 410.6,921.4 411.1,915.8 411.6,918.8 412.1,923.7 412.6,922.6 413.1,921.7 413.6,924.9 414.1,922.2 414.6,921.1 415.1,926.0 415.6,929.6 416.1,922.9 416.6,923.7 417.2,925.8 417.7,925.3 418.2,926.1 418.7,928.0 419.2,925.3 419.7,927.6 420.2,928.3 420.7,925.6 421.2,927.8 421.7,927.8 422.2,923.7 422.7,928.8 423.2,926.6 423.7,928.9 424.2,932.3 424.7,932.8 425.3,937.2 425.8,930.2 426.3,935.6 426.8,933.1 427.3,931.3 427.8,926.7 428.3,927.1 428.8,935.5 429.3,934.3 429.8,937.5 430.3,935.8 430.8,936.2 431.3,931.3 431.8,930.9 432.3,937.9 432.8,936.2 433.4,938.9 433.9,931.8 434.4,933.5 434.9,935.7 435.4,935.8 435.9,941.6 436.4,935.5 436.9,937.7 437.4,932.4 437.9,936.6 438.4,935.0 438.9,930.7 439.4,935.5 439.9,936.8 440.4,936.4 440.9,936.1 441.5,938.1 442.0,933.6 442.5,938.9 443.0,940.3 443.5,930.8 444.0,938.9 444.5,936.7 445.0,935.0 445.5,935.0 446.0,934.1 446.5,936.6 447.0,933.6 447.5,931.1 448.0,938.6 448.5,942.0 449.0,930.9 449.6,943.1 450.1,934.3 450.6,941.5 451.1,944.7 451.6,940.4 452.1,938.2 452.6,935.4 453.1,942.8 453.6,935.4 454.1,941.5 454.6,940.8 455.1,937.6 455.6,937.8 456.1,940.5 456.6,934.9 457.1,941.2 457.7,937.9 458.2,941.4 458.7,939.3 459.2,939.1 459.7,942.9 460.2,938.0 460.7,942.3 461.2,930.9 461.7,935.3 462.2,938.6 462.7,932.4 463.2,944.5 463.7,939.0 464.2,929.4 464.7,934.1 465.2,931.0 465.8,925.5 466.3,927.2 466.8,921.8 467.3,923.1 467.8,916.6 468.3,918.5 468.8,913.9 469.3,914.4 469.8,911.2 470.3,910.3 470.8,908.7 471.3,905.2 471.8,901.5 472.3,900.8 473.9,895.6 475.5,893.1 477.1,891.7 478.7,890.0 480.2,887.5 481.8,886.5 483.4,885.8 485.0,885.4 486.6,885.2 488.2,885.4 489.7,884.6 491.3,884.9 492.9,885.1 494.5,885.7 496.1,885.5 497.6,886.6 499.2,886.1 500.8,886.3 502.4,886.4 504.0,886.7 505.6,886.8 507.1,887.4 508.7,887.4 510.3,888.2 511.9,888.5 513.5,889.2 515.1,888.8 516.6,889.7 518.2,889.7 519.8,890.1 521.4,890.5 523.0,890.5 524.5,891.5 526.1,891.3 527.7,891.7 529.3,892.1 530.9,892.9 532.5,893.1 534.0,893.8 535.6,894.0 537.2,894.9 538.8,894.8 540.4,895.2 541.9,895.8 543.5,896.5 545.1,896.4" fill="none" stroke="#c2476c" stroke-width="1.4" stroke-linejoin="round"/>
<polyline points="324.5,887.6 325.0,883.5 325.5,880.3 326.0,893.7 326.5,873.2 327.0,889.9 327.5,889.3 328.0,890.7 328.6,892.5 329.1,888.0 329.6,890.7 330.1,891.3 330.6,897.3 331.1,898.6 331.6,897.5 332.1,907.2 332.6,894.9 333.1,906.0 333.6,902.6 334.1,903.1 334.6,904.8 335.1,902.6 335.6,900.3 336.1,903.2 336.7,899.7 337.2,901.1 337.7,895.8 338.2,896.5 338.7,897.9 339.2,902.9 339.7,904.1 340.2,898.5 340.7,898.7 341.2,907.4 341.7,898.7 342.2,893.1 342.7,898.4 343.2,898.0 343.7,899.9 344.2,900.7 344.8,901.0 345.3,896.4 345.8,892.2 346.3,898.7 346.8,899.4 347.3,900.1 347.8,892.0 348.3,899.0 348.8,899.1 349.3,901.8 349.8,898.3 350.3,897.4 350.8,896.9 351.3,892.8 351.8,890.9 352.3,895.8 352.9,892.1 353.4,892.4 353.9,892.5 354.4,892.8 354.9,891.5 355.4,886.1 355.9,889.9 356.4,889.6 356.9,887.1 357.4,886.9 357.9,883.5 358.4,885.4 358.9,885.5 359.4,885.7 359.9,881.7 360.4,880.7 361.0,882.0 361.5,880.3 362.0,875.6 362.5,878.9 363.0,877.9 363.5,877.0 364.0,874.9 364.5,873.4 365.0,872.2 365.5,872.4 366.0,870.8 366.5,868.2 367.0,869.8 367.5,868.3 368.0,866.2 368.5,865.3 369.1,864.1 370.6,860.9 372.2,856.7 373.8,854.2 375.4,850.4 377.0,847.4 378.5,844.5 380.1,840.5 381.7,836.7 383.3,833.8 384.9,830.9 386.5,827.1 388.0,823.8 389.6,823.5 391.2,821.7 392.8,820.2 394.4,819.5 395.9,818.6 397.5,817.4 399.1,817.7 400.7,817.2 402.3,817.1 403.9,817.3 405.4,815.9 407.0,816.2 408.6,816.4 410.2,816.5 411.8,816.4 413.4,815.9 414.9,816.1 416.5,815.7 418.1,814.8 419.7,815.7 421.3,815.7 422.8,815.8 424.4,815.3 426.0,815.1 427.6,815.6 429.2,815.7 430.8,815.0 432.3,815.0 433.9,814.9 435.5,815.5 437.1,814.9 438.7,815.1 440.2,814.9 441.8,814.8 443.4,814.5 445.0,814.9 446.6,814.9 448.2,814.8 449.7,814.2 451.3,814.3 452.9,815.0 454.5,814.6 456.1,814.2 457.7,814.8 459.2,813.9 460.8,814.4 462.4,813.8 464.0,814.0 465.6,814.2 467.1,813.9 468.7,813.8 470.3,813.7 471.9,813.6 473.5,814.8 475.1,814.8 476.6,814.8 478.2,814.6 479.8,815.1 481.4,815.7 483.0,816.3 484.5,817.0 486.1,817.2 487.7,818.5 489.3,819.0 490.9,819.2 492.5,820.1 494.0,820.8 495.6,821.6 497.2,822.7 498.8,822.7 500.4,823.4 502.0,824.2 503.5,825.1 505.1,825.1 506.7,825.4 508.3,825.8 509.9,826.4 511.4,827.0 513.0,827.3 514.6,827.5 516.2,828.9 517.8,828.7 519.4,829.3 520.9,829.9 522.5,830.5 524.1,830.9 525.7,831.4 527.3,832.1 528.8,832.4 530.4,833.1 532.0,833.7 533.6,834.1 535.2,834.8 536.8,835.5 538.3,835.6 539.9,836.0 541.5,836.6 543.1,836.9 544.7,837.4" fill="none" stroke="#bb5fd8" stroke-width="1.5" stroke-linejoin="round"/>
</g>
<rect x="324.5" y="783.4" width="221.5" height="167.9" fill="none" stroke="#111" stroke-width="2"/>
<line x1="321.5" y1="945.1" x2="324.5" y2="945.1" stroke="#111" stroke-width="1.1"/>
<text class="s" x="318" y="949.5" font-size="10.6" text-anchor="end">10<tspan font-size="6.8" dy="-4.6">0</tspan></text>
<line x1="321.5" y1="924.9" x2="324.5" y2="924.9" stroke="#111" stroke-width="1.1"/>
<text class="s" x="318" y="929.3" font-size="10.6" text-anchor="end">10<tspan font-size="6.8" dy="-4.6">1</tspan></text>
<line x1="321.5" y1="904.7" x2="324.5" y2="904.7" stroke="#111" stroke-width="1.1"/>
<text class="s" x="318" y="909.1" font-size="10.6" text-anchor="end">10<tspan font-size="6.8" dy="-4.6">2</tspan></text>
<line x1="321.5" y1="884.5" x2="324.5" y2="884.5" stroke="#111" stroke-width="1.1"/>
<text class="s" x="318" y="888.9" font-size="10.6" text-anchor="end">10<tspan font-size="6.8" dy="-4.6">3</tspan></text>
<line x1="321.5" y1="864.3" x2="324.5" y2="864.3" stroke="#111" stroke-width="1.1"/>
<text class="s" x="318" y="868.7" font-size="10.6" text-anchor="end">10<tspan font-size="6.8" dy="-4.6">4</tspan></text>
<line x1="321.5" y1="844.1" x2="324.5" y2="844.1" stroke="#111" stroke-width="1.1"/>
<text class="s" x="318" y="848.5" font-size="10.6" text-anchor="end">10<tspan font-size="6.8" dy="-4.6">5</tspan></text>
<line x1="321.5" y1="823.9" x2="324.5" y2="823.9" stroke="#111" stroke-width="1.1"/>
<text class="s" x="318" y="828.3" font-size="10.6" text-anchor="end">10<tspan font-size="6.8" dy="-4.6">6</tspan></text>
<line x1="321.5" y1="803.7" x2="324.5" y2="803.7" stroke="#111" stroke-width="1.1"/>
<text class="s" x="318" y="808.1" font-size="10.6" text-anchor="end">10<tspan font-size="6.8" dy="-4.6">7</tspan></text>
<line x1="321.5" y1="783.4" x2="324.5" y2="783.4" stroke="#111" stroke-width="1.1"/>
<text class="s" x="318" y="787.8" font-size="10.6" text-anchor="end">10<tspan font-size="6.8" dy="-4.6">8</tspan></text>
<line x1="324.5" y1="951.3" x2="324.5" y2="954.8" stroke="#111" stroke-width="1.2"/>
<text class="s" x="324.5" y="966.3" font-size="10.8" text-anchor="middle">0</text>
<line x1="356.1" y1="951.3" x2="356.1" y2="954.8" stroke="#111" stroke-width="1.2"/>
<text class="s" x="356.1" y="966.3" font-size="10.8" text-anchor="middle">100</text>
<line x1="387.8" y1="951.3" x2="387.8" y2="954.8" stroke="#111" stroke-width="1.2"/>
<text class="s" x="387.8" y="966.3" font-size="10.8" text-anchor="middle">200</text>
<line x1="419.4" y1="951.3" x2="419.4" y2="954.8" stroke="#111" stroke-width="1.2"/>
<text class="s" x="419.4" y="966.3" font-size="10.8" text-anchor="middle">300</text>
<line x1="451.1" y1="951.3" x2="451.1" y2="954.8" stroke="#111" stroke-width="1.2"/>
<text class="s" x="451.1" y="966.3" font-size="10.8" text-anchor="middle">400</text>
<line x1="482.7" y1="951.3" x2="482.7" y2="954.8" stroke="#111" stroke-width="1.2"/>
<text class="s" x="482.7" y="966.3" font-size="10.8" text-anchor="middle">500</text>
<line x1="514.4" y1="951.3" x2="514.4" y2="954.8" stroke="#111" stroke-width="1.2"/>
<text class="s" x="514.4" y="966.3" font-size="10.8" text-anchor="middle">600</text>
<line x1="546" y1="951.3" x2="546" y2="954.8" stroke="#111" stroke-width="1.2"/>
<text class="s" x="546" y="966.3" font-size="10.8" text-anchor="middle">700</text>
<text class="s" x="336.5" y="797.2" font-size="10.8" text-anchor="middle" font-weight="bold" fill="#1e1e1e">Ag</text>
<text class="s" x="366" y="797.2" font-size="10.8" text-anchor="middle" font-weight="bold" fill="#1e1e1e">ETL</text>
<text class="s" x="428.3" y="797.2" font-size="10.8" text-anchor="middle" font-weight="bold" fill="#1e1e1e">Perovskite</text>
<text class="s" x="487.1" y="797.2" font-size="10.8" text-anchor="middle" font-weight="bold" fill="#1e1e1e">HTL</text>
<text class="s" x="527.6" y="797.2" font-size="10.8" text-anchor="middle" font-weight="bold" fill="#1e1e1e">ITO</text>
<text class="s" x="498.3" y="817.2" font-size="9.2" font-weight="bold" fill="#3a2a2a">I<tspan font-size="6" dy="-3.5">-</tspan></text>
<text class="s" x="493.5" y="847.5" font-size="9.2" font-weight="bold" fill="#3a2a2a">InO<tspan font-size="6" dy="-3.5">-</tspan></text>
<text class="s" x="492" y="880.5" font-size="9.2" font-weight="bold" fill="#3a2a2a">SO<tspan font-size="6" dy="2">3</tspan><tspan font-size="6" dy="-6">2-</tspan></text>
<text class="s" x="494.2" y="929.2" font-size="9.2" font-weight="bold" fill="#3a2a2a">Ag<tspan font-size="6" dy="-3.5">-</tspan></text>
<text class="s" x="392" y="833.5" font-size="17" fill="#222">with TPTA</text>
<text class="s" x="392" y="853.8" font-size="17" fill="#222">light 40h</text>
<text class="s" x="291" y="864" font-size="13.5" text-anchor="middle" transform="rotate(-90 291 864)">Intensity (counts)</text>
<text class="s" x="435.1" y="986.5" font-size="14.5" text-anchor="middle" letter-spacing="0.3">Sputter Time (s)</text>
<text class="s" x="276.5" y="798" font-size="22" font-weight="bold" fill="#111">(h)</text>
<rect x="591.8" y="782.6" width="23.1" height="168.7" fill="#b9b9b9"/>
<rect x="614.9" y="782.6" width="36.4" height="168.7" fill="#dcefdf"/>
<rect x="651.3" y="782.6" width="84.8" height="168.7" fill="#fdf1cb"/>
<rect x="736.2" y="782.6" width="39.9" height="168.7" fill="#eccba4"/>
<rect x="776" y="782.6" width="37.4" height="168.7" fill="#dde2f0"/>
<g clip-path="url(#cI)">
<polyline points="591.8,858.2 593.4,857.7 595.0,858.1 596.5,858.1 598.1,858.2 599.7,858.3 601.3,858.3 602.9,858.5 604.5,858.7 606.0,858.8 607.6,858.9 609.2,858.5 610.8,858.4 612.4,859.4 614.0,861.3 615.5,862.8 617.1,864.0 618.7,865.9 620.3,868.9 620.8,866.9 621.3,868.7 621.8,868.5 622.3,869.5 622.8,866.8 623.3,869.0 623.8,870.2 624.3,872.2 624.9,870.5 625.4,872.9 625.9,871.1 626.4,874.5 626.9,873.4 627.4,872.7 627.9,875.2 628.4,874.5 628.9,874.9 629.4,874.4 629.9,876.6 630.4,875.6 630.9,874.3 631.4,879.2 631.9,878.9 632.4,877.7 633.0,879.5 633.5,880.9 634.0,877.7 634.5,878.8 635.0,879.0 635.5,879.5 636.0,880.4 636.5,883.0 637.0,885.6 637.5,882.0 638.0,884.7 638.5,883.6 639.0,883.5 639.5,886.3 640.0,885.4 640.6,882.7 641.1,884.6 641.6,888.6 642.1,886.8 642.6,886.9 643.1,886.4 643.6,886.6 644.1,888.2 644.6,888.9 645.1,887.6 645.6,891.6 646.1,887.9 646.6,889.6 647.1,891.4 647.6,891.9 648.1,891.0 648.7,894.2 649.2,896.2 649.7,891.9 650.2,890.4 650.7,893.7 651.2,893.7 651.7,894.3 652.2,896.6 652.7,894.7 653.2,894.6 653.7,896.9 654.2,895.9 654.7,900.6 655.2,898.6 655.7,901.5 656.3,901.7 656.8,900.8 657.3,901.7 657.8,900.9 658.3,902.0 658.8,907.0 659.3,901.9 659.8,909.5 660.3,906.7 660.8,906.5 661.3,908.2 661.8,907.4 662.3,909.4 662.8,912.7 663.3,908.8 663.9,911.8 664.4,914.8 664.9,913.0 665.4,914.0 665.9,913.8 666.4,917.2 666.9,915.9 667.4,917.7 667.9,913.3 668.4,919.9 668.9,915.7 669.4,920.7 669.9,917.7 670.4,914.5 670.9,924.1 671.4,923.2 672.0,927.6 672.5,927.8 673.0,928.1 673.5,926.6 674.0,924.3 674.5,925.2 675.0,931.2 675.5,929.6 676.0,936.8 676.5,929.4 677.0,933.5 677.5,937.6 678.0,936.5 678.5,931.2 679.0,933.5 679.6,931.4 680.1,936.4 680.6,934.0 681.1,936.1 681.6,942.4 682.1,936.3 682.6,936.5 683.1,939.4 683.6,932.5 684.1,926.0 684.6,929.8 685.1,937.0 685.6,943.2 686.1,938.6 686.6,941.1 687.2,937.3 687.7,932.1 688.2,938.3 688.7,945.1 689.2,939.1 689.7,934.1 690.2,934.3 690.7,936.1 691.2,934.0 691.7,941.0 692.2,939.6 692.7,939.7 693.2,939.0 693.7,934.3 694.2,939.0 694.7,939.0 695.3,937.4 695.8,942.4 696.3,936.5 696.8,941.1 697.3,939.0 697.8,929.2 698.3,937.0 698.8,933.6 699.3,939.0 699.8,930.9 700.3,935.5 700.8,944.7 701.3,942.0 701.8,934.5 702.3,944.8 702.9,938.2 703.4,936.5 703.9,942.0 704.4,931.1 704.9,935.2 705.4,939.4 705.9,933.4 706.4,931.6 706.9,932.2 707.4,939.4 707.9,934.5 708.4,936.7 708.9,944.5 709.4,940.6 709.9,928.2 710.5,943.0 711.0,936.3 711.5,929.9 712.0,940.8 712.5,939.0 713.0,942.8 713.5,936.2 714.0,945.1 714.5,945.1 715.0,932.3 715.5,937.6 716.0,944.0 716.5,944.2 717.0,935.4 717.5,929.5 718.0,940.9 718.6,930.7 719.1,929.1 719.6,934.1 720.1,934.0 720.6,939.8 721.1,928.0 721.6,921.3 722.1,933.2 722.6,923.5 723.1,924.4 723.6,923.2 724.1,929.1 724.6,925.4 725.1,923.7 725.6,918.9 726.2,925.8 726.7,924.0 727.2,924.0 727.7,918.9 728.2,925.0 728.7,920.9 729.2,923.5 729.7,920.6 730.2,917.5 730.7,920.5 731.2,917.0 731.7,919.6 732.2,918.3 732.7,918.2 733.2,919.6 733.8,916.2 734.3,915.3 734.8,918.4 735.3,914.6 735.8,915.6 736.3,916.5 736.8,914.9 737.3,913.1 737.8,913.2 738.3,911.7 738.8,914.4 739.3,914.5 739.8,918.0 740.3,916.1 740.8,913.8 741.3,917.2 741.9,916.9 742.4,911.6 742.9,915.3 743.4,917.2 743.9,919.1 744.4,916.8 744.9,911.0 745.4,915.3 745.9,914.2 746.4,914.1 746.9,916.2 747.4,914.7 747.9,915.3 748.4,916.0 748.9,913.6 749.5,917.0 750.0,916.9 750.5,916.8 751.0,913.3 751.5,916.5 752.0,912.2 752.5,918.2 753.0,917.5 753.5,920.7 754.0,917.5 754.5,915.6 755.0,914.5 755.5,917.7 756.0,916.8 756.5,913.2 757.1,917.0 757.6,916.0 758.1,915.1 758.6,918.3 759.1,914.2 759.6,917.1 760.1,915.3 760.6,917.5 761.1,916.6 761.6,914.9 762.1,916.9 762.6,921.0 763.1,918.2 763.6,918.5 764.1,918.3 764.6,917.7 765.2,921.3 765.7,914.9 766.2,920.1 766.7,916.1 767.2,919.5 767.7,919.6 768.2,919.2 768.7,919.8 769.2,918.2 769.7,917.0 770.2,916.0 770.7,916.0 771.2,922.2 771.7,918.6 772.2,919.1 772.8,920.4 773.3,919.7 773.8,920.4 774.3,922.9 774.8,922.4 775.3,919.0 775.8,921.1 776.3,918.3 776.8,922.1 777.3,922.5 777.8,921.2 778.3,921.3 778.8,919.7 779.3,922.8 779.8,920.2 780.3,921.2 780.9,923.8 781.4,922.5 781.9,922.6 782.4,920.3 782.9,920.0 783.4,921.2 783.9,923.8 784.4,921.3 784.9,922.6 785.4,924.3 785.9,921.5 786.4,924.9 786.9,924.0 787.4,925.7 787.9,926.6 788.5,922.9 789.0,927.3 789.5,925.3 790.0,924.8 790.5,923.1 791.0,925.7 791.5,922.7 792.0,926.3 792.5,926.4 793.0,926.6 793.5,925.9 794.0,926.6 794.5,928.3 795.0,926.8 795.5,927.1 796.1,922.6 796.6,927.7 797.1,924.4 797.6,927.5 798.1,923.2 798.6,925.7 799.1,926.9 799.6,922.7 800.1,921.8 800.6,921.8 801.1,923.3 801.6,925.6 802.1,927.5 802.6,927.1 803.1,927.3 803.6,924.6 804.2,927.1 804.7,925.5 805.2,925.6 805.7,926.5 806.2,927.9 806.7,929.1 807.2,919.5 807.7,926.7 808.2,930.8 808.7,929.9 809.2,928.3 809.7,921.5 810.2,926.2 810.7,929.2 811.2,921.9 811.8,932.0 812.3,923.6 812.8,919.0 813.3,926.9" fill="none" stroke="#585858" stroke-width="1.4" stroke-linejoin="round"/>
<polyline points="591.8,888.6 592.3,890.1 592.8,904.5 593.3,892.0 593.8,895.8 594.3,904.2 594.8,890.8 595.3,896.4 595.9,893.3 596.4,893.2 596.9,897.2 597.4,903.4 597.9,897.1 598.4,898.0 598.9,898.9 599.4,897.3 599.9,894.3 600.4,889.1 600.9,893.2 601.4,892.3 601.9,889.5 602.4,890.9 602.9,892.4 603.4,893.2 604.0,894.2 604.5,888.1 605.0,889.7 605.5,885.3 606.0,889.1 606.5,887.5 607.0,884.0 607.5,880.5 608.0,883.1 608.5,882.8 609.0,879.3 609.5,882.0 610.0,875.9 610.5,879.4 611.0,878.7 611.6,874.7 612.1,874.7 612.6,870.5 613.1,870.3 613.6,869.8 614.1,872.3 614.6,868.4 615.1,868.4 615.6,868.8 616.1,864.6 616.6,869.7 617.1,869.1 617.6,869.4 618.1,869.6 618.6,869.0 619.2,869.1 619.7,871.8 620.2,870.0 620.7,870.1 621.2,871.0 621.7,869.7 622.2,873.2 622.7,873.4 623.2,874.0 623.7,875.5 624.2,874.4 624.7,873.0 625.2,874.3 625.7,875.7 626.2,875.9 626.7,874.4 627.3,875.0 627.8,880.5 628.3,880.0 628.8,876.5 629.3,877.4 629.8,877.9 630.3,877.9 630.8,881.9 631.3,882.5 631.8,879.9 632.3,883.3 632.8,881.3 633.3,878.2 633.8,885.7 634.3,881.8 634.9,880.2 635.4,881.2 635.9,884.9 636.4,886.3 636.9,884.8 637.4,887.8 637.9,885.4 638.4,886.6 638.9,886.8 639.4,884.8 639.9,886.7 640.4,888.3 640.9,887.6 641.4,888.1 641.9,888.4 642.5,889.2 643.0,886.4 643.5,889.6 644.0,886.3 644.5,887.6 645.0,887.0 645.5,888.7 646.0,893.3 646.5,884.0 647.0,891.7 647.5,893.5 648.0,890.1 648.5,890.1 649.0,896.2 649.5,894.5 650.0,891.6 650.6,891.7 651.1,893.7 651.6,893.4 652.1,890.6 652.6,893.7 653.1,889.3 653.6,889.8 654.1,892.1 654.6,885.0 655.1,885.4 655.6,895.3 656.1,890.6 656.6,885.7 657.1,893.0 657.6,897.6 658.2,893.5 658.7,892.8 659.2,892.7 659.7,889.4 660.2,888.4 660.7,888.3 661.2,896.9 661.7,892.7 662.2,887.0 662.7,892.1 663.2,894.2 663.7,891.3 664.2,883.0 664.7,895.1 665.2,891.8 665.8,891.5 666.3,893.4 666.8,890.8 667.3,892.2 667.8,894.8 668.3,891.6 668.8,892.1 669.3,892.2 669.8,889.5 670.3,888.8 670.8,888.6 671.3,888.7 671.8,894.5 672.3,889.8 672.8,891.1 673.3,893.6 673.9,890.1 674.4,891.0 674.9,891.1 675.4,888.8 675.9,894.5 676.4,890.6 676.9,893.3 677.4,892.0 677.9,892.2 678.4,887.9 678.9,888.4 679.4,888.8 679.9,894.5 680.4,889.8 680.9,884.9 681.5,886.3 682.0,888.4 682.5,889.8 683.0,893.1 683.5,889.2 684.0,895.3 684.5,890.8 685.0,895.1 685.5,893.5 686.0,895.2 686.5,889.2 687.0,891.7 687.5,889.3 688.0,888.2 688.5,889.2 689.1,892.8 689.6,889.2 690.1,894.9 690.6,892.1 691.1,888.4 691.6,891.1 692.1,890.0 692.6,890.2 693.1,882.4 693.6,896.6 694.1,894.3 694.6,885.5 695.1,894.6 695.6,890.3 696.1,885.0 696.6,896.7 697.2,890.9 697.7,887.8 698.2,886.1 698.7,892.5 699.2,888.1 699.7,891.6 700.2,888.9 700.7,891.8 701.2,888.4 701.7,887.8 702.2,887.0 702.7,891.7 703.2,892.9 703.7,889.1 704.2,886.7 704.8,888.4 705.3,893.4 705.8,890.1 706.3,890.5 706.8,893.2 707.3,882.4 707.8,891.2 708.3,891.6 708.8,890.9 709.3,894.8 709.8,892.0 710.3,892.4 710.8,893.2 711.3,892.1 711.8,902.2 712.4,890.5 712.9,891.2 713.4,893.6 713.9,893.8 714.4,898.3 714.9,892.6 715.4,889.5 715.9,889.9 716.4,890.4 716.9,891.8 717.4,885.8 717.9,884.9 718.4,894.1 718.9,883.1 719.4,886.3 719.9,890.9 720.5,886.9 721.0,884.7 721.5,880.6 722.0,883.8 722.5,880.1 723.0,880.9 723.5,878.8 724.0,875.1 724.5,875.9 725.0,873.3 725.5,871.3 726.0,869.8 727.6,865.1 729.2,860.8 730.8,856.1 732.4,853.1 733.9,848.6 735.5,846.8 737.1,844.5 738.7,842.7 740.3,841.2 741.9,839.1 743.4,837.2 745.0,837.9 746.6,836.4 748.2,835.7 749.8,834.5 751.4,834.1 752.9,833.3 754.5,833.2 756.1,832.5 757.7,832.2 759.3,831.7 760.8,831.2 762.4,830.9 764.0,831.3 765.6,830.3 767.2,830.5 768.8,830.5 770.3,830.7 771.9,829.8 773.5,829.6 775.1,829.7 776.7,829.9 778.3,829.9 779.8,828.8 781.4,829.5 783.0,828.7 784.6,829.0 786.2,828.9 787.8,828.6 789.3,829.0 790.9,828.9 792.5,829.3 794.1,829.0 795.7,828.9 797.3,828.5 798.8,828.8 800.4,828.1 802.0,828.5 803.6,828.2 805.2,828.3 806.8,828.1 808.3,828.2 809.9,827.8 811.5,828.0 813.1,828.2" fill="none" stroke="#8a5656" stroke-width="1.4" stroke-linejoin="round"/>
<polyline points="591.8,892.0 592.3,882.5 592.8,889.3 593.3,891.5 593.8,895.8 594.3,891.4 594.8,900.0 595.3,895.5 595.9,897.9 596.4,900.9 596.9,905.4 597.4,912.7 597.9,904.8 598.4,913.5 598.9,913.3 599.4,921.5 599.9,922.5 600.4,926.3 600.9,924.3 601.4,928.2 601.9,935.5 602.4,937.4 602.9,936.4 603.4,940.9 604.0,935.8 604.5,934.7 605.0,934.4 605.5,938.5 606.0,926.9 606.5,935.4 607.0,930.6 607.5,933.0 608.0,934.1 608.5,923.4 609.0,928.1 609.5,924.2 610.0,923.6 610.5,919.9 611.0,916.6 611.6,914.4 612.1,910.5 612.6,910.7 613.1,906.2 613.6,906.3 614.1,908.2 614.6,908.7 615.1,907.9 615.6,909.5 616.1,909.5 616.6,911.8 617.1,912.2 617.6,910.1 618.1,912.2 618.6,911.2 619.2,910.9 619.7,913.1 620.2,914.4 620.7,912.4 621.2,913.9 621.7,916.0 622.2,914.4 622.7,918.1 623.2,917.3 623.7,916.0 624.2,916.5 624.7,915.8 625.2,917.6 625.7,916.3 626.2,917.7 626.7,920.4 627.3,920.6 627.8,920.4 628.3,918.1 628.8,919.8 629.3,920.4 629.8,921.0 630.3,923.2 630.8,920.9 631.3,921.1 631.8,921.5 632.3,918.9 632.8,918.7 633.3,918.2 633.8,919.1 634.3,921.1 634.9,918.6 635.4,920.9 635.9,918.8 636.4,918.2 636.9,917.8 637.4,918.6 637.9,917.4 638.4,918.5 638.9,918.8 639.4,919.0 639.9,918.3 640.4,918.6 640.9,916.4 641.4,917.9 641.9,917.2 642.5,915.5 643.0,915.5 643.5,915.6 644.0,915.8 644.5,916.6 645.0,915.9 645.5,914.4 646.0,913.2 646.5,916.2 647.0,913.7 647.5,913.2 648.0,915.1 648.5,911.4 649.0,912.7 649.5,912.5 650.0,909.4 650.6,909.5 651.1,909.2 651.6,909.6 652.1,910.6 652.6,910.1 653.1,911.5 653.6,908.1 654.1,908.1 654.6,908.2 655.1,906.9 655.6,907.3 656.1,904.3 656.6,905.8 657.1,906.0 657.6,907.1 658.2,907.2 658.7,910.0 659.2,909.2 659.7,909.2 660.2,910.1 660.7,909.5 661.2,910.3 661.7,913.3 662.2,913.6 662.7,913.3 663.2,916.7 663.7,911.7 664.2,912.3 664.7,913.1 665.2,916.4 665.8,914.4 666.3,917.2 666.8,919.3 667.3,920.5 667.8,918.7 668.3,920.3 668.8,920.1 669.3,922.5 669.8,920.0 670.3,923.8 670.8,921.8 671.3,927.2 671.8,922.7 672.3,923.7 672.8,924.8 673.3,929.5 673.9,927.4 674.4,926.9 674.9,928.3 675.4,923.9 675.9,928.2 676.4,928.1 676.9,925.7 677.4,930.1 677.9,928.8 678.4,933.3 678.9,932.1 679.4,938.5 679.9,931.3 680.4,939.0 680.9,930.5 681.5,933.8 682.0,931.3 682.5,936.7 683.0,932.5 683.5,935.2 684.0,937.1 684.5,935.6 685.0,938.1 685.5,937.7 686.0,933.9 686.5,934.2 687.0,933.9 687.5,933.9 688.0,936.0 688.5,931.9 689.1,938.1 689.6,934.2 690.1,938.0 690.6,941.7 691.1,939.6 691.6,938.5 692.1,931.3 692.6,933.2 693.1,939.3 693.6,931.3 694.1,936.0 694.6,936.2 695.1,941.7 695.6,935.2 696.1,940.7 696.6,941.8 697.2,936.3 697.7,936.3 698.2,936.9 698.7,943.6 699.2,944.7 699.7,934.3 700.2,929.6 700.7,940.1 701.2,934.1 701.7,937.5 702.2,937.9 702.7,945.1 703.2,942.1 703.7,938.6 704.2,942.7 704.8,938.4 705.3,932.9 705.8,935.1 706.3,939.7 706.8,935.4 707.3,943.1 707.8,939.7 708.3,935.5 708.8,936.1 709.3,934.9 709.8,934.9 710.3,936.1 710.8,936.3 711.3,935.1 711.8,934.0 712.4,933.4 712.9,945.1 713.4,932.9 713.9,931.7 714.4,944.0 714.9,938.5 715.4,936.8 715.9,938.6 716.4,935.1 716.9,928.6 717.4,936.7 717.9,927.7 718.4,933.6 718.9,927.3 719.4,931.6 719.9,923.7 720.5,922.3 721.0,920.6 721.5,918.8 722.0,915.6 722.5,913.6 723.0,912.2 723.5,911.9 724.0,906.0 724.5,906.9 725.0,905.6 725.5,902.0 726.0,899.3 727.6,896.4 729.2,893.3 730.8,889.9 732.4,887.4 733.9,885.3 735.5,884.2 737.1,883.0 738.7,881.6 740.3,880.6 741.9,882.1 743.4,882.2 745.0,882.4 746.6,882.9 748.2,883.5 749.8,883.7 751.4,883.4 752.9,883.9 754.5,884.0 756.1,883.8 757.7,884.7 759.3,885.2 760.8,885.9 762.4,885.9 764.0,886.9 765.6,887.6 767.2,888.5 768.8,888.5 770.3,888.4 771.9,889.1 773.5,890.0 775.1,890.8 776.7,890.6 778.3,891.5 779.8,892.6 781.4,893.2 783.0,893.8 784.6,894.5 786.2,895.2 787.8,895.4 789.3,895.8 790.9,896.2 792.5,896.6 794.1,897.7 795.7,898.0 797.3,898.3 798.8,899.4 800.4,899.7 802.0,900.4 803.6,901.6 805.2,902.1 806.8,902.5 808.3,902.4 809.9,903.6 811.5,904.6 813.1,904.8" fill="none" stroke="#c2476c" stroke-width="1.4" stroke-linejoin="round"/>
<polyline points="591.8,869.5 592.3,870.2 592.8,874.8 593.3,874.8 593.8,873.8 594.3,873.4 594.8,879.4 595.3,876.5 595.9,875.1 596.4,876.1 596.9,877.8 597.4,879.2 597.9,878.3 598.4,879.6 598.9,881.4 599.4,879.6 599.9,886.2 600.4,884.0 600.9,878.6 601.4,883.7 601.9,883.2 602.4,885.1 602.9,882.2 603.4,887.4 604.0,884.8 604.5,881.5 605.0,884.8 605.5,884.9 606.0,887.5 606.5,886.6 607.0,882.4 607.5,883.7 608.0,885.3 608.5,885.6 609.0,884.1 609.5,883.9 610.0,880.6 610.5,886.9 611.0,880.5 611.6,879.5 612.1,881.0 612.6,883.0 613.1,882.3 613.6,881.7 614.1,879.0 614.6,879.8 615.1,882.6 615.6,879.7 616.1,881.1 616.6,879.1 617.1,879.3 617.6,878.8 618.1,877.4 618.6,876.7 619.2,877.9 619.7,877.7 620.2,878.5 620.7,876.2 621.2,876.3 621.7,875.5 622.2,877.2 622.7,874.8 623.2,875.5 623.7,875.9 624.2,874.1 624.7,874.5 625.2,874.5 625.7,874.1 626.2,872.5 626.7,871.2 628.3,869.8 629.9,867.9 631.5,864.6 633.1,861.3 634.7,859.4 636.2,855.5 637.8,852.8 639.4,849.4 641.0,846.6 642.6,843.9 644.2,840.6 645.7,838.0 647.3,834.7 648.9,831.9 650.5,828.6 652.1,826.4 653.7,824.1 655.2,822.0 656.8,820.8 658.4,819.1 660.0,816.8 661.6,817.4 663.2,817.3 664.7,817.0 666.3,816.5 667.9,816.6 669.5,815.6 671.1,815.7 672.7,816.2 674.2,815.4 675.8,815.1 677.4,815.3 679.0,814.8 680.6,815.1 682.1,814.6 683.7,815.1 685.3,815.2 686.9,814.3 688.5,814.8 690.1,815.1 691.6,813.4 693.2,815.4 694.8,814.2 696.4,813.9 698.0,814.1 699.6,814.3 701.1,814.0 702.7,813.5 704.3,813.2 705.9,813.5 707.5,813.6 709.1,813.8 710.6,813.5 712.2,813.9 713.8,814.3 715.4,813.3 717.0,813.1 718.6,813.3 720.1,813.3 721.7,813.2 723.3,813.1 724.9,813.3 726.5,813.0 728.1,813.2 729.6,813.3 731.2,813.9 732.8,814.3 734.4,815.0 736.0,815.2 737.5,816.0 739.1,816.4 740.7,816.7 742.3,817.9 743.9,818.5 745.5,818.6 747.0,819.9 748.6,820.1 750.2,821.0 751.8,821.5 753.4,822.2 755.0,823.0 756.5,823.2 758.1,824.4 759.7,824.9 761.3,825.2 762.9,825.9 764.5,826.7 766.0,827.2 767.6,828.3 769.2,828.1 770.8,829.6 772.4,830.1 774.0,830.1 775.5,830.9 777.1,831.5 778.7,832.0 780.3,832.8 781.9,834.3 783.5,834.0 785.0,834.8 786.6,835.2 788.2,836.2 789.8,837.0 791.4,837.3 792.9,838.0 794.5,838.4 796.1,838.9 797.7,839.8 799.3,840.4 800.9,840.9 802.4,841.5 804.0,842.7 805.6,842.9 807.2,843.7 808.8,844.3 810.4,845.2 811.9,845.2" fill="none" stroke="#bb5fd8" stroke-width="1.5" stroke-linejoin="round"/>
</g>
<rect x="591.8" y="782.6" width="221.6" height="168.7" fill="none" stroke="#111" stroke-width="2"/>
<line x1="588.8" y1="945.1" x2="591.8" y2="945.1" stroke="#111" stroke-width="1.1"/>
<text class="s" x="585.3" y="949.5" font-size="10.6" text-anchor="end">10<tspan font-size="6.8" dy="-4.6">0</tspan></text>
<line x1="588.8" y1="924.9" x2="591.8" y2="924.9" stroke="#111" stroke-width="1.1"/>
<text class="s" x="585.3" y="929.3" font-size="10.6" text-anchor="end">10<tspan font-size="6.8" dy="-4.6">1</tspan></text>
<line x1="588.8" y1="904.7" x2="591.8" y2="904.7" stroke="#111" stroke-width="1.1"/>
<text class="s" x="585.3" y="909.1" font-size="10.6" text-anchor="end">10<tspan font-size="6.8" dy="-4.6">2</tspan></text>
<line x1="588.8" y1="884.5" x2="591.8" y2="884.5" stroke="#111" stroke-width="1.1"/>
<text class="s" x="585.3" y="888.9" font-size="10.6" text-anchor="end">10<tspan font-size="6.8" dy="-4.6">3</tspan></text>
<line x1="588.8" y1="864.3" x2="591.8" y2="864.3" stroke="#111" stroke-width="1.1"/>
<text class="s" x="585.3" y="868.7" font-size="10.6" text-anchor="end">10<tspan font-size="6.8" dy="-4.6">4</tspan></text>
<line x1="588.8" y1="844.1" x2="591.8" y2="844.1" stroke="#111" stroke-width="1.1"/>
<text class="s" x="585.3" y="848.5" font-size="10.6" text-anchor="end">10<tspan font-size="6.8" dy="-4.6">5</tspan></text>
<line x1="588.8" y1="823.9" x2="591.8" y2="823.9" stroke="#111" stroke-width="1.1"/>
<text class="s" x="585.3" y="828.3" font-size="10.6" text-anchor="end">10<tspan font-size="6.8" dy="-4.6">6</tspan></text>
<line x1="588.8" y1="803.7" x2="591.8" y2="803.7" stroke="#111" stroke-width="1.1"/>
<text class="s" x="585.3" y="808.1" font-size="10.6" text-anchor="end">10<tspan font-size="6.8" dy="-4.6">7</tspan></text>
<line x1="588.8" y1="782.6" x2="591.8" y2="782.6" stroke="#111" stroke-width="1.1"/>
<text class="s" x="585.3" y="787" font-size="10.6" text-anchor="end">10<tspan font-size="6.8" dy="-4.6">8</tspan></text>
<line x1="591.8" y1="951.3" x2="591.8" y2="954.8" stroke="#111" stroke-width="1.2"/>
<text class="s" x="591.8" y="966.3" font-size="10.8" text-anchor="middle">0</text>
<line x1="623.5" y1="951.3" x2="623.5" y2="954.8" stroke="#111" stroke-width="1.2"/>
<text class="s" x="623.5" y="966.3" font-size="10.8" text-anchor="middle">100</text>
<line x1="655.1" y1="951.3" x2="655.1" y2="954.8" stroke="#111" stroke-width="1.2"/>
<text class="s" x="655.1" y="966.3" font-size="10.8" text-anchor="middle">200</text>
<line x1="686.8" y1="951.3" x2="686.8" y2="954.8" stroke="#111" stroke-width="1.2"/>
<text class="s" x="686.8" y="966.3" font-size="10.8" text-anchor="middle">300</text>
<line x1="718.4" y1="951.3" x2="718.4" y2="954.8" stroke="#111" stroke-width="1.2"/>
<text class="s" x="718.4" y="966.3" font-size="10.8" text-anchor="middle">400</text>
<line x1="750.1" y1="951.3" x2="750.1" y2="954.8" stroke="#111" stroke-width="1.2"/>
<text class="s" x="750.1" y="966.3" font-size="10.8" text-anchor="middle">500</text>
<line x1="781.7" y1="951.3" x2="781.7" y2="954.8" stroke="#111" stroke-width="1.2"/>
<text class="s" x="781.7" y="966.3" font-size="10.8" text-anchor="middle">600</text>
<line x1="813.4" y1="951.3" x2="813.4" y2="954.8" stroke="#111" stroke-width="1.2"/>
<text class="s" x="813.4" y="966.3" font-size="10.8" text-anchor="middle">700</text>
<text class="s" x="602.6" y="797.2" font-size="10.8" text-anchor="middle" font-weight="bold" fill="#1e1e1e">Ag</text>
<text class="s" x="632.3" y="797.2" font-size="10.8" text-anchor="middle" font-weight="bold" fill="#1e1e1e">ETL</text>
<text class="s" x="693.1" y="797.2" font-size="10.8" text-anchor="middle" font-weight="bold" fill="#1e1e1e">Perovskite</text>
<text class="s" x="755.5" y="797.2" font-size="10.8" text-anchor="middle" font-weight="bold" fill="#1e1e1e">HTL</text>
<text class="s" x="794.7" y="797.2" font-size="10.8" text-anchor="middle" font-weight="bold" fill="#1e1e1e">ITO</text>
<text class="s" x="760.7" y="813.2" font-size="9.2" font-weight="bold" fill="#3a2a2a">I<tspan font-size="6" dy="-3.5">-</tspan></text>
<text class="s" x="747.5" y="844" font-size="9.2" font-weight="bold" fill="#3a2a2a">InO<tspan font-size="6" dy="-3.5">-</tspan></text>
<text class="s" x="746.5" y="881.8" font-size="9.2" font-weight="bold" fill="#3a2a2a">SO<tspan font-size="6" dy="2">3</tspan><tspan font-size="6" dy="-6">2-</tspan></text>
<text class="s" x="749.5" y="933.2" font-size="9.2" font-weight="bold" fill="#3a2a2a">Ag<tspan font-size="6" dy="-3.5">-</tspan></text>
<text class="s" x="660.5" y="833.5" font-size="17" fill="#222">Control</text>
<text class="s" x="660.5" y="854.5" font-size="17" fill="#222">light 40h</text>
<text class="s" x="558" y="864" font-size="13.5" text-anchor="middle" transform="rotate(-90 558 864)">Intensity (counts)</text>
<text class="s" x="702.5" y="986.5" font-size="14.5" text-anchor="middle" letter-spacing="0.3">Sputter Time (s)</text>
<text class="s" x="549" y="798" font-size="22" font-weight="bold" fill="#111">(i)</text>
<rect x="863.8" y="919.8" width="8.6" height="34.1" fill="#747474"/>
<rect x="872.2" y="896.2" width="8.6" height="57.7" fill="#cf6078"/>
<rect x="880.6" y="897.4" width="8.6" height="56.5" fill="#78b8f6"/>
<rect x="889" y="894" width="8.6" height="59.9" fill="#e2a46e"/>
<rect x="905.5" y="849.8" width="8.6" height="104.1" fill="#747474"/>
<rect x="913.9" y="831.7" width="8.6" height="122.2" fill="#cf6078"/>
<rect x="922.3" y="827" width="8.6" height="126.9" fill="#78b8f6"/>
<rect x="930.7" y="814.4" width="8.6" height="139.5" fill="#e2a46e"/>
<rect x="947.6" y="848.1" width="8.6" height="105.8" fill="#747474"/>
<rect x="956" y="832.5" width="8.6" height="121.4" fill="#cf6078"/>
<rect x="964.4" y="818.6" width="8.6" height="135.3" fill="#78b8f6"/>
<rect x="972.8" y="798.8" width="8.6" height="155.1" fill="#e2a46e"/>
<rect x="990" y="875.1" width="8.6" height="78.8" fill="#747474"/>
<rect x="998.4" y="871.3" width="8.6" height="82.6" fill="#cf6078"/>
<rect x="1006.8" y="869.6" width="8.6" height="84.3" fill="#78b8f6"/>
<rect x="1015.2" y="852.3" width="8.6" height="101.6" fill="#e2a46e"/>
<rect x="1032.2" y="906.3" width="8.6" height="47.6" fill="#747474"/>
<rect x="1040.6" y="902.9" width="8.6" height="51" fill="#cf6078"/>
<rect x="1049" y="893.6" width="8.6" height="60.3" fill="#78b8f6"/>
<rect x="1057.4" y="871.3" width="8.6" height="82.6" fill="#e2a46e"/>
<rect x="859.3" y="785.3" width="211.3" height="168.6" fill="none" stroke="#111" stroke-width="2"/>
<line x1="855.8" y1="953.9" x2="859.3" y2="953.9" stroke="#111" stroke-width="1.2"/>
<text class="s" x="854.3" y="957.9" font-size="11.5" text-anchor="end">0</text>
<line x1="855.8" y1="911.8" x2="859.3" y2="911.8" stroke="#111" stroke-width="1.2"/>
<text class="s" x="854.3" y="915.8" font-size="11.5" text-anchor="end">1</text>
<line x1="855.8" y1="869.6" x2="859.3" y2="869.6" stroke="#111" stroke-width="1.2"/>
<text class="s" x="854.3" y="873.6" font-size="11.5" text-anchor="end">2</text>
<line x1="855.8" y1="827.5" x2="859.3" y2="827.5" stroke="#111" stroke-width="1.2"/>
<text class="s" x="854.3" y="831.5" font-size="11.5" text-anchor="end">3</text>
<line x1="855.8" y1="785.3" x2="859.3" y2="785.3" stroke="#111" stroke-width="1.2"/>
<text class="s" x="854.3" y="789.3" font-size="11.5" text-anchor="end">4</text>
<line x1="880.6" y1="953.9" x2="880.6" y2="957.4" stroke="#111" stroke-width="1.2"/>
<line x1="922.3" y1="953.9" x2="922.3" y2="957.4" stroke="#111" stroke-width="1.2"/>
<line x1="964.4" y1="953.9" x2="964.4" y2="957.4" stroke="#111" stroke-width="1.2"/>
<line x1="1006.8" y1="953.9" x2="1006.8" y2="957.4" stroke="#111" stroke-width="1.2"/>
<line x1="1049" y1="953.9" x2="1049" y2="957.4" stroke="#111" stroke-width="1.2"/>
<rect x="1008.9" y="786.6" width="22" height="11.8" fill="#747474"/>
<text class="s" x="1033.8" y="796.2" font-size="10.5">Control</text>
<rect x="1008.9" y="799.4" width="22" height="11.8" fill="#cf6078"/>
<text class="s" x="1033.8" y="809" font-size="10.5">TAPB</text>
<rect x="1008.9" y="812.2" width="22" height="11.8" fill="#78b8f6"/>
<text class="s" x="1033.8" y="821.8" font-size="10.5">TAPOB</text>
<rect x="1008.9" y="825" width="22" height="11.8" fill="#e2a46e"/>
<text class="s" x="1033.8" y="834.6" font-size="10.5">TPTA</text>
<text class="s" x="881.3" y="968.5" font-size="10" text-anchor="middle" font-weight="bold" fill="#222">V<tspan font-size="7.5" dy="2.5">I</tspan></text>
<text class="s" x="929.6" y="968.5" font-size="10" text-anchor="middle" font-weight="bold" fill="#222">V<tspan font-size="7.5" dy="2.5">Pb</tspan></text>
<text class="s" x="967.8" y="968.5" font-size="10" text-anchor="middle" font-weight="bold" fill="#222">V<tspan font-size="7.5" dy="2.5">Sn</tspan></text>
<text class="s" x="1009.7" y="968.5" font-size="10" text-anchor="middle" font-weight="bold" fill="#222">I<tspan font-size="7.5" dy="2.5">i</tspan></text>
<text class="s" x="1051.8" y="968.5" font-size="10" text-anchor="middle" font-weight="bold" fill="#222">Pb<tspan font-size="7.5" dy="2.5">i</tspan></text>
<text class="s" x="844.3" y="868.7" font-size="13.9" text-anchor="middle" transform="rotate(-90 844.3 868.7)">Formation energy (eV)</text>
<text class="s" x="815.5" y="799.8" font-size="22" font-weight="bold" fill="#111">(j)</text>
<g opacity="0.62"><ellipse cx="771.5" cy="952.5" rx="13" ry="11" fill="#9b9b9b"/><path d="M763 961 L760 968 L769 963Z" fill="#9b9b9b"/><ellipse cx="786.5" cy="963.5" rx="10" ry="8.6" fill="#a6a6a6" stroke="#fff" stroke-width="1.2"/><path d="M792 970 L796 975 L788 972Z" fill="#a6a6a6"/><circle cx="767" cy="949" r="1.5" fill="#fff"/><circle cx="776" cy="949" r="1.5" fill="#fff"/><circle cx="783" cy="961.5" r="1.2" fill="#fff"/><circle cx="790" cy="961.5" r="1.2" fill="#fff"/></g>
<text class="c" x="806.5" y="969" font-size="26.5" fill="#8c8c8c" fill-opacity="0.66" stroke="#fff" stroke-opacity="0.55" stroke-width="0.8" paint-order="stroke" textLength="234" lengthAdjust="spacing">公众号 · 先进光伏</text>
</g>
</svg>
</body></html>
